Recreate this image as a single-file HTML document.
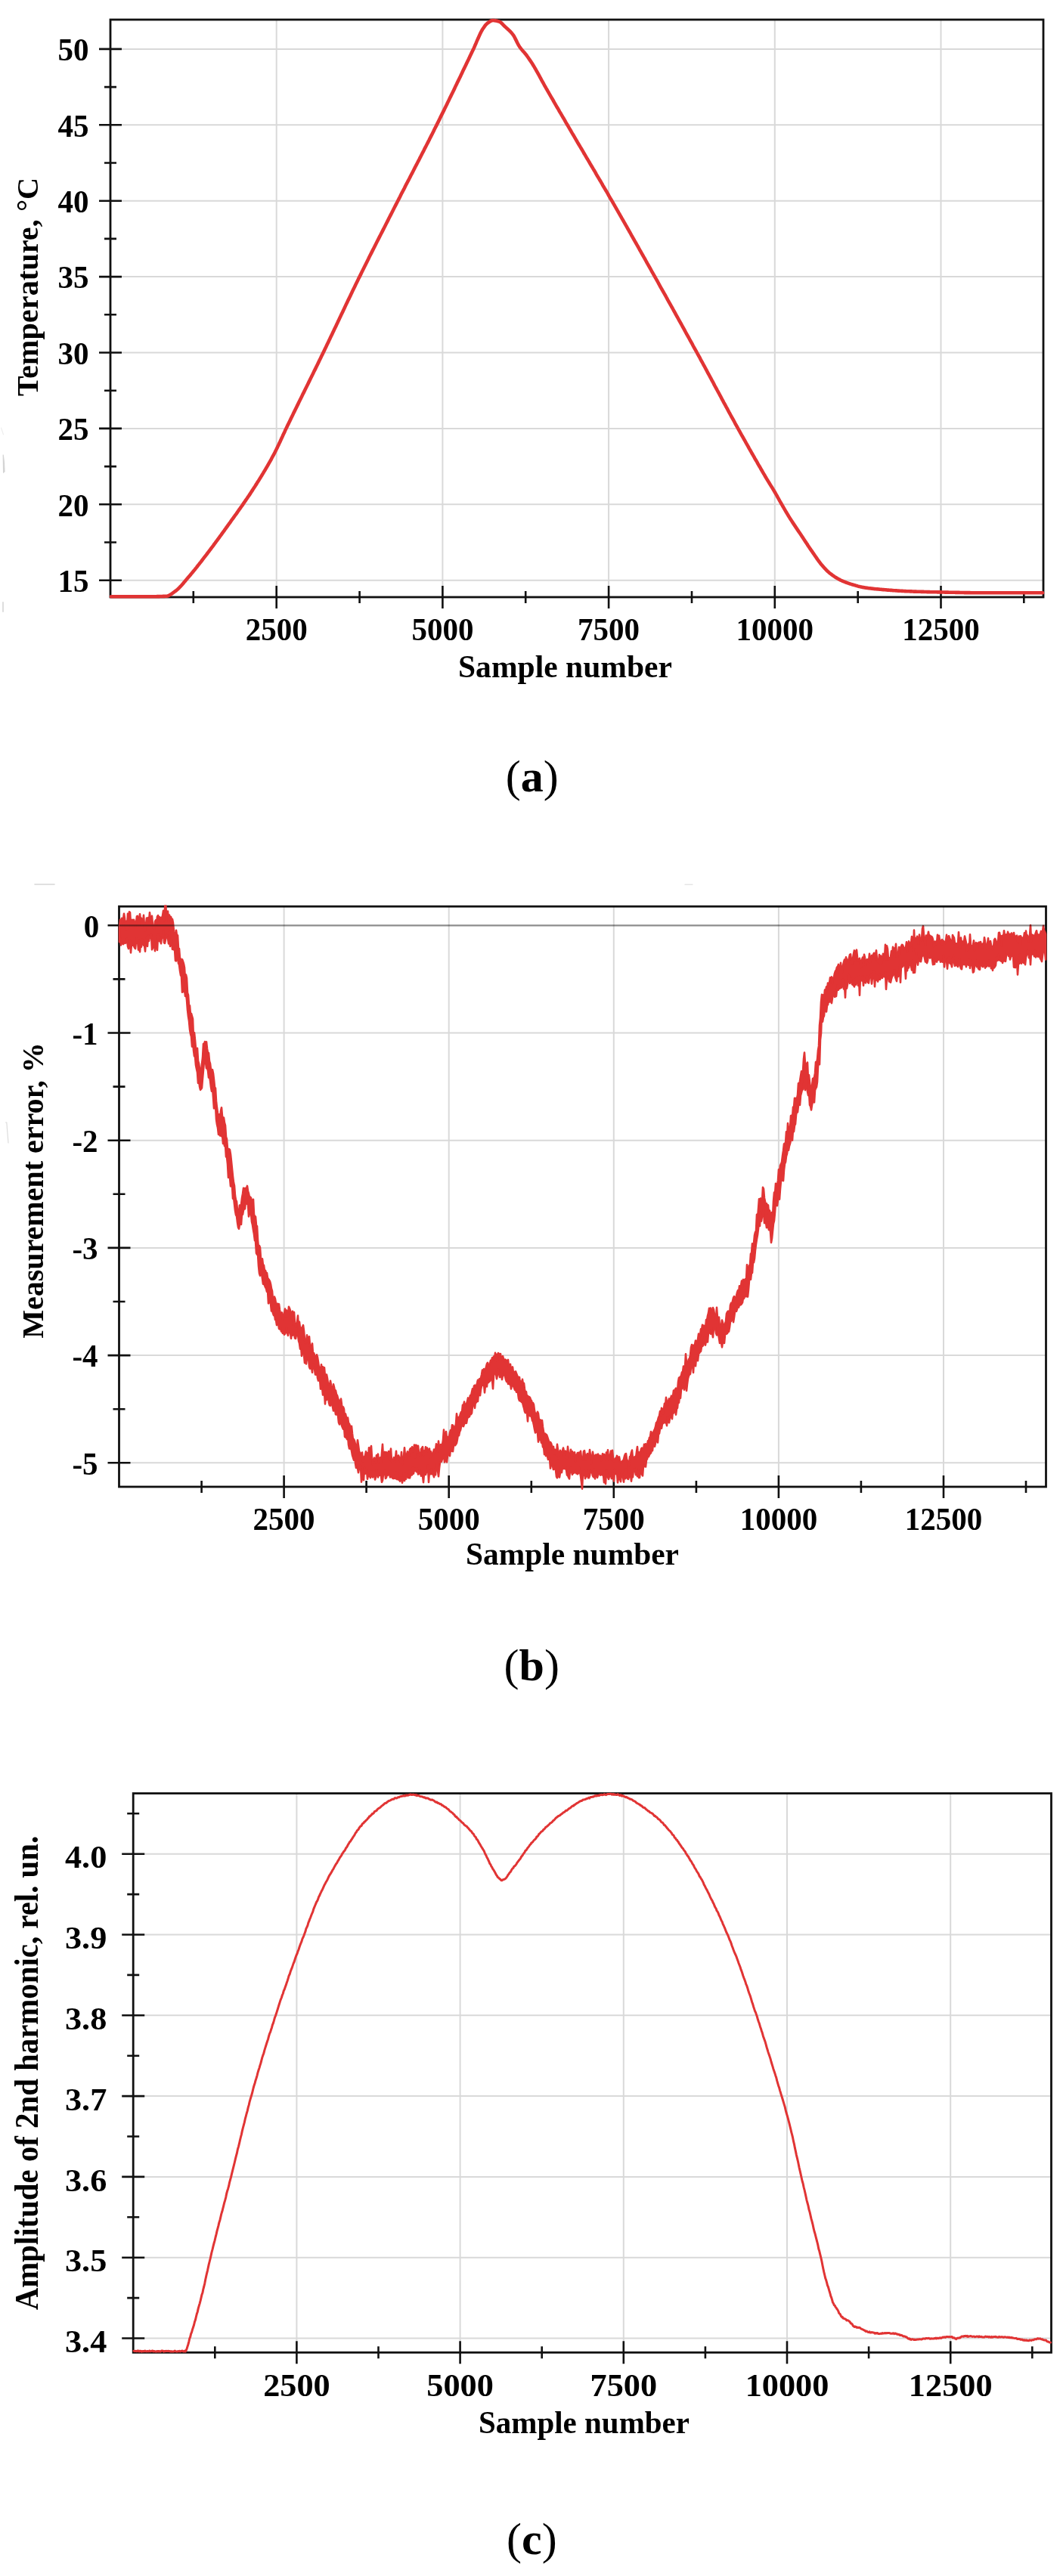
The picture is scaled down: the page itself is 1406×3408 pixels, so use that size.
<!DOCTYPE html>
<html><head><meta charset="utf-8"><style>html,body{margin:0;padding:0;background:#fff;}svg{display:block;filter:blur(0.5px);}</style></head>
<body>
<svg width="1406" height="3408" viewBox="0 0 1406 3408">
<rect width="1406" height="3408" fill="#fff"/>
<defs><clipPath id="cb"><rect x="150" y="1197.5" width="1240" height="775"/></clipPath></defs>
<g stroke="#d9d9d9" stroke-width="2"><line x1="146" y1="767.7" x2="1380" y2="767.7"/><line x1="146" y1="667.3" x2="1380" y2="667.3"/><line x1="146" y1="566.9" x2="1380" y2="566.9"/><line x1="146" y1="466.5" x2="1380" y2="466.5"/><line x1="146" y1="366.1" x2="1380" y2="366.1"/><line x1="146" y1="265.7" x2="1380" y2="265.7"/><line x1="146" y1="165.3" x2="1380" y2="165.3"/><line x1="146" y1="64.9" x2="1380" y2="64.9"/><line x1="365.7" y1="26" x2="365.7" y2="790"/><line x1="585.4" y1="26" x2="585.4" y2="790"/><line x1="805.1" y1="26" x2="805.1" y2="790"/><line x1="1024.8" y1="26" x2="1024.8" y2="790"/><line x1="1244.5" y1="26" x2="1244.5" y2="790"/></g>
<path d="M131 767.7H161M131 667.3H161M131 566.9H161M131 466.5H161M131 366.1H161M131 265.7H161M131 165.3H161M131 64.9H161M138 717.5H154M138 617.1H154M138 516.7H154M138 416.3H154M138 315.9H154M138 215.5H154M138 115.1H154M365.7 775V805M585.4 775V805M805.1 775V805M1024.8 775V805M1244.5 775V805M255.8 782V798M475.6 782V798M695.2 782V798M915 782V798M1134.7 782V798M1354.3 782V798" stroke="#111" stroke-width="2.6" fill="none"/>
<rect x="146" y="26" width="1234" height="764" fill="none" stroke="#111" stroke-width="2.8"/>
<path d="M147 789.2 L148 789.2 L149 789.2 L150 789.2 L151 789.2 L152 789.2 L153 789.2 L154 789.2 L155 789.2 L156 789.2 L157 789.2 L158 789.2 L159 789.2 L160 789.2 L161 789.2 L162 789.2 L163 789.2 L164 789.2 L165 789.3 L166 789.3 L167 789.3 L168 789.3 L169 789.3 L170 789.3 L171 789.3 L172 789.3 L173 789.3 L174 789.3 L175 789.3 L176 789.3 L177 789.3 L178 789.3 L179 789.3 L180 789.3 L181 789.3 L182 789.3 L183 789.3 L184 789.3 L185 789.3 L186 789.3 L187 789.3 L188 789.3 L189 789.3 L190 789.3 L191 789.3 L192 789.3 L193 789.3 L193.9 789.3 L194.9 789.3 L195.9 789.3 L196.9 789.3 L197.9 789.3 L198.9 789.3 L199.9 789.3 L200.9 789.2 L201.8 789.2 L202.8 789.2 L203.8 789.2 L204.8 789.2 L205.8 789.2 L206.8 789.2 L207.8 789.1 L208.7 789.1 L209.7 789.1 L210.7 789.1 L211.7 789 L212.7 789 L213.7 789 L214.7 789 L215.7 788.9 L216.6 788.9 L217.6 788.9 L218.6 788.8 L219.6 788.8 L220.6 788.7 L221.5 788.5 L222.5 788.2 L223.4 787.8 L224.4 787.3 L225.3 786.7 L226.3 786.1 L227.2 785.5 L228.2 784.8 L229.1 784.1 L230.1 783.4 L231 782.7 L232 782 L233 781.3 L233.9 780.5 L234.9 779.7 L235.8 778.8 L236.8 777.8 L237.8 776.9 L238.7 775.8 L239.7 774.8 L240.7 773.7 L241.6 772.6 L242.6 771.5 L243.5 770.3 L244.5 769.2 L245.5 768 L246.4 766.9 L247.4 765.7 L248.3 764.6 L249.3 763.5 L250.3 762.4 L251.3 761.2 L252.3 760 L253.2 758.9 L254.2 757.7 L255.2 756.5 L256.2 755.3 L257.2 754.1 L258.2 752.8 L259.2 751.6 L260.2 750.4 L261.1 749.1 L262.1 747.8 L263.1 746.6 L264.1 745.3 L265.1 744.1 L266.1 742.8 L267.1 741.5 L268.1 740.2 L269.1 738.9 L270 737.7 L271 736.4 L272 735.1 L273 733.8 L274 732.5 L275 731.2 L276 729.9 L276.9 728.6 L277.9 727.3 L278.9 726 L279.9 724.7 L280.9 723.4 L281.9 722.1 L282.9 720.7 L283.8 719.4 L284.8 718.1 L285.8 716.7 L286.8 715.4 L287.8 714 L288.8 712.7 L289.8 711.3 L290.7 710 L291.7 708.6 L292.7 707.3 L293.7 705.9 L294.7 704.5 L295.7 703.2 L296.7 701.8 L297.6 700.4 L298.6 699.1 L299.6 697.7 L300.6 696.3 L301.6 694.9 L302.6 693.5 L303.6 692.2 L304.6 690.8 L305.5 689.4 L306.5 688 L307.5 686.7 L308.5 685.3 L309.5 683.9 L310.5 682.5 L311.5 681.1 L312.5 679.8 L313.5 678.4 L314.4 677 L315.4 675.6 L316.4 674.2 L317.4 672.8 L318.4 671.4 L319.4 670 L320.4 668.6 L321.4 667.1 L322.4 665.7 L323.3 664.3 L324.3 662.9 L325.3 661.4 L326.3 660 L327.3 658.5 L328.3 657 L329.3 655.6 L330.3 654.1 L331.3 652.6 L332.2 651.1 L333.2 649.6 L334.2 648.1 L335.2 646.5 L336.2 645 L337.2 643.5 L338.2 641.9 L339.2 640.4 L340.1 638.8 L341.1 637.2 L342.1 635.7 L343.1 634.1 L344.1 632.5 L345.1 630.9 L346.1 629.3 L347 627.7 L348 626.1 L349 624.4 L350 622.8 L351 621.1 L352 619.4 L352.9 617.8 L353.9 616.1 L354.9 614.3 L355.9 612.6 L356.9 610.9 L357.9 609.1 L358.9 607.3 L359.8 605.5 L360.8 603.7 L361.8 601.9 L362.8 600 L363.8 598.1 L364.7 596.2 L365.7 594.3 L366.7 592.3 L367.6 590.2 L368.6 588.2 L369.6 586.1 L370.6 584 L371.5 581.9 L372.5 579.8 L373.5 577.7 L374.4 575.6 L375.4 573.5 L376.4 571.4 L377.3 569.3 L378.3 567.3 L379.3 565.2 L380.3 563.1 L381.3 561.1 L382.3 559 L383.3 556.9 L384.3 554.9 L385.3 552.8 L386.3 550.7 L387.3 548.7 L388.3 546.6 L389.3 544.6 L390.3 542.5 L391.3 540.5 L392.3 538.4 L393.3 536.4 L394.3 534.4 L395.3 532.3 L396.3 530.3 L397.3 528.2 L398.3 526.2 L399.3 524.2 L400.3 522.1 L401.3 520.1 L402.3 518.1 L403.3 516 L404.3 514 L405.3 512 L406.3 510 L407.3 507.9 L408.3 505.9 L409.3 503.9 L410.3 501.8 L411.3 499.8 L412.3 497.7 L413.3 495.7 L414.3 493.7 L415.3 491.6 L416.3 489.6 L417.3 487.6 L418.3 485.5 L419.3 483.5 L420.3 481.4 L421.3 479.4 L422.3 477.3 L423.3 475.3 L424.3 473.2 L425.3 471.1 L426.3 469.1 L427.3 467 L428.3 464.9 L429.3 462.9 L430.3 460.8 L431.3 458.7 L432.3 456.6 L433.3 454.5 L434.3 452.4 L435.3 450.3 L436.3 448.2 L437.3 446.1 L438.3 444 L439.3 441.9 L440.3 439.8 L441.3 437.7 L442.3 435.6 L443.3 433.5 L444.3 431.4 L445.3 429.3 L446.3 427.2 L447.3 425 L448.3 422.9 L449.3 420.8 L450.3 418.7 L451.3 416.6 L452.3 414.5 L453.3 412.4 L454.3 410.3 L455.3 408.2 L456.3 406.1 L457.3 403.9 L458.3 401.8 L459.3 399.7 L460.3 397.6 L461.3 395.6 L462.3 393.5 L463.3 391.4 L464.3 389.3 L465.3 387.2 L466.3 385.1 L467.3 383 L468.3 381 L469.3 378.9 L470.3 376.8 L471.3 374.8 L472.3 372.7 L473.3 370.7 L474.3 368.6 L475.3 366.6 L476.3 364.6 L477.3 362.6 L478.3 360.5 L479.3 358.5 L480.3 356.5 L481.3 354.5 L482.3 352.5 L483.3 350.5 L484.3 348.5 L485.3 346.5 L486.3 344.5 L487.3 342.5 L488.2 340.5 L489.2 338.5 L490.2 336.6 L491.2 334.6 L492.2 332.6 L493.2 330.6 L494.2 328.7 L495.2 326.7 L496.2 324.7 L497.2 322.7 L498.2 320.8 L499.2 318.8 L500.2 316.9 L501.2 314.9 L502.2 312.9 L503.2 311 L504.2 309 L505.2 307.1 L506.2 305.1 L507.2 303.1 L508.2 301.2 L509.2 299.2 L510.2 297.3 L511.2 295.3 L512.2 293.4 L513.2 291.4 L514.1 289.5 L515.1 287.5 L516.1 285.6 L517.1 283.6 L518.1 281.7 L519.1 279.7 L520.1 277.7 L521.1 275.8 L522.1 273.8 L523.1 271.9 L524.1 269.9 L525.1 268 L526.1 266 L527.1 264.1 L528.1 262.1 L529.1 260.2 L530 258.3 L531 256.3 L532 254.4 L533 252.5 L534 250.6 L535 248.7 L535.9 246.8 L536.9 244.8 L537.9 242.9 L538.9 241 L539.9 239.1 L540.9 237.2 L541.9 235.3 L542.8 233.4 L543.8 231.5 L544.8 229.6 L545.8 227.7 L546.8 225.8 L547.8 223.8 L548.7 221.9 L549.7 220 L550.7 218.1 L551.7 216.2 L552.7 214.3 L553.7 212.4 L554.7 210.5 L555.6 208.6 L556.6 206.7 L557.6 204.7 L558.6 202.8 L559.6 200.9 L560.6 199 L561.5 197.1 L562.5 195.1 L563.5 193.2 L564.5 191.3 L565.5 189.4 L566.5 187.4 L567.5 185.5 L568.4 183.5 L569.4 181.6 L570.4 179.6 L571.4 177.7 L572.4 175.7 L573.4 173.8 L574.3 171.8 L575.3 169.8 L576.3 167.9 L577.3 165.9 L578.3 163.9 L579.3 161.9 L580.3 159.9 L581.3 157.9 L582.2 155.9 L583.2 153.9 L584.2 151.9 L585.2 149.9 L586.2 147.9 L587.2 145.9 L588.2 143.8 L589.2 141.8 L590.2 139.8 L591.2 137.8 L592.1 135.7 L593.1 133.7 L594.1 131.7 L595.1 129.6 L596.1 127.6 L597.1 125.5 L598.1 123.5 L599.1 121.5 L600.1 119.4 L601.1 117.4 L602 115.3 L603 113.3 L604 111.2 L605 109.1 L606 107.1 L607 105 L608 103 L609 100.9 L610 98.8 L611 96.8 L611.9 94.7 L612.9 92.6 L613.9 90.6 L614.9 88.5 L615.9 86.4 L616.9 84.4 L617.9 82.3 L618.9 80.2 L619.9 78.2 L620.9 76.1 L621.8 74 L622.8 71.9 L623.8 69.9 L624.8 67.8 L625.8 65.7 L626.8 63.7 L627.7 61.6 L628.6 59.4 L629.6 57.2 L630.5 55 L631.5 52.7 L632.5 50.6 L633.4 48.4 L634.4 46.3 L635.3 44.3 L636.2 42.4 L637.2 40.6 L638.1 39 L639.1 37.5 L640.1 36.1 L641.1 34.7 L642 33.4 L643 32.3 L644 31.3 L645 30.5 L646 29.8 L647 29.1 L648 28.4 L648.9 27.9 L649.9 27.4 L650.9 27.1 L651.9 27 L652.8 27 L653.7 27.1 L654.7 27.2 L655.6 27.4 L656.5 27.5 L657.4 27.7 L658.4 28 L659.3 28.2 L660.2 28.5 L661.1 28.9 L662.1 29.5 L663 30.3 L664 31.2 L664.9 32.1 L665.8 33.1 L666.8 34.1 L667.7 35 L668.7 35.9 L669.6 36.7 L670.6 37.6 L671.6 38.5 L672.5 39.4 L673.5 40.3 L674.4 41.2 L675.4 42.2 L676.4 43.3 L677.3 44.4 L678.3 45.6 L679.3 47 L680.3 48.7 L681.3 50.6 L682.3 52.6 L683.3 54.6 L684.3 56.7 L685.3 58.6 L686.3 60.4 L687.3 62 L688.3 63.4 L689.3 64.7 L690.3 65.9 L691.3 67.1 L692.3 68.2 L693.3 69.3 L694.3 70.5 L695.3 71.7 L696.3 73 L697.2 74.2 L698.1 75.5 L699 76.8 L699.9 78.1 L700.8 79.4 L701.8 80.8 L702.7 82.2 L703.6 83.6 L704.5 85 L705.4 86.5 L706.4 88.1 L707.4 89.8 L708.4 91.5 L709.4 93.3 L710.4 95.1 L711.4 96.9 L712.4 98.7 L713.4 100.5 L714.4 102.4 L715.4 104.2 L716.4 106.1 L717.4 107.9 L718.4 109.7 L719.4 111.5 L720.4 113.3 L721.4 115 L722.4 116.8 L723.4 118.5 L724.3 120.2 L725.3 121.9 L726.3 123.7 L727.3 125.4 L728.3 127.1 L729.3 128.8 L730.3 130.5 L731.3 132.2 L732.2 133.9 L733.2 135.7 L734.2 137.4 L735.2 139.1 L736.2 140.8 L737.2 142.5 L738.2 144.2 L739.2 145.9 L740.1 147.6 L741.1 149.2 L742.1 150.9 L743.1 152.6 L744.1 154.3 L745.1 156 L746.1 157.7 L747.1 159.4 L748 161.1 L749 162.8 L750 164.5 L751 166.2 L752 167.9 L753 169.6 L754 171.3 L755 173 L755.9 174.7 L756.9 176.4 L757.9 178 L758.9 179.7 L759.9 181.4 L760.9 183.1 L761.9 184.8 L762.9 186.5 L763.8 188.2 L764.8 189.8 L765.8 191.5 L766.8 193.2 L767.8 194.9 L768.8 196.5 L769.8 198.2 L770.8 199.9 L771.8 201.6 L772.7 203.3 L773.7 204.9 L774.7 206.6 L775.7 208.3 L776.7 210 L777.7 211.6 L778.7 213.3 L779.7 215 L780.6 216.7 L781.6 218.3 L782.6 220 L783.6 221.7 L784.6 223.4 L785.6 225 L786.6 226.7 L787.6 228.4 L788.5 230.1 L789.5 231.8 L790.5 233.5 L791.5 235.1 L792.5 236.8 L793.5 238.5 L794.5 240.2 L795.5 241.9 L796.5 243.6 L797.4 245.3 L798.4 247 L799.4 248.7 L800.4 250.3 L801.4 252 L802.4 253.7 L803.4 255.4 L804.4 257.1 L805.3 258.9 L806.3 260.6 L807.3 262.3 L808.3 264 L809.3 265.7 L810.3 267.4 L811.3 269.2 L812.3 270.9 L813.3 272.7 L814.3 274.4 L815.3 276.1 L816.3 277.9 L817.3 279.6 L818.3 281.4 L819.3 283.1 L820.3 284.9 L821.3 286.6 L822.3 288.4 L823.3 290.1 L824.3 291.9 L825.3 293.7 L826.3 295.4 L827.3 297.2 L828.3 298.9 L829.3 300.7 L830.3 302.5 L831.3 304.2 L832.3 306 L833.3 307.7 L834.3 309.5 L835.3 311.3 L836.3 313 L837.3 314.8 L838.3 316.6 L839.3 318.4 L840.3 320.1 L841.3 321.9 L842.3 323.7 L843.3 325.4 L844.3 327.2 L845.3 329 L846.3 330.8 L847.3 332.5 L848.3 334.3 L849.3 336.1 L850.3 337.9 L851.3 339.7 L852.3 341.4 L853.3 343.2 L854.3 345 L855.3 346.8 L856.3 348.6 L857.3 350.3 L858.3 352.1 L859.3 353.9 L860.3 355.7 L861.3 357.5 L862.3 359.3 L863.3 361 L864.3 362.8 L865.3 364.6 L866.3 366.4 L867.3 368.2 L868.3 369.9 L869.3 371.7 L870.3 373.5 L871.3 375.3 L872.2 377 L873.2 378.8 L874.2 380.6 L875.2 382.3 L876.2 384.1 L877.2 385.9 L878.2 387.7 L879.2 389.4 L880.2 391.2 L881.2 393 L882.2 394.8 L883.1 396.6 L884.1 398.3 L885.1 400.1 L886.1 401.9 L887.1 403.7 L888.1 405.5 L889.1 407.2 L890.1 409 L891.1 410.8 L892.1 412.6 L893.1 414.4 L894 416.2 L895 418 L896 419.7 L897 421.5 L898 423.3 L899 425.1 L900 426.9 L901 428.7 L902 430.5 L903 432.3 L904 434.1 L905 435.9 L905.9 437.7 L906.9 439.5 L907.9 441.3 L908.9 443.1 L909.9 444.9 L910.9 446.7 L911.9 448.5 L912.9 450.3 L913.9 452.1 L914.9 453.9 L915.9 455.7 L916.8 457.5 L917.8 459.3 L918.8 461.1 L919.8 462.9 L920.8 464.7 L921.8 466.5 L922.8 468.3 L923.8 470.1 L924.8 471.9 L925.8 473.7 L926.7 475.6 L927.7 477.4 L928.7 479.2 L929.7 481 L930.7 482.9 L931.7 484.7 L932.7 486.5 L933.7 488.4 L934.7 490.2 L935.6 492 L936.6 493.9 L937.6 495.7 L938.6 497.5 L939.6 499.4 L940.6 501.2 L941.6 503.1 L942.6 504.9 L943.6 506.8 L944.5 508.6 L945.5 510.5 L946.5 512.3 L947.5 514.1 L948.5 516 L949.5 517.8 L950.5 519.7 L951.5 521.5 L952.5 523.4 L953.5 525.2 L954.4 527 L955.4 528.9 L956.4 530.7 L957.4 532.6 L958.4 534.4 L959.4 536.2 L960.4 538.1 L961.4 539.9 L962.4 541.7 L963.3 543.5 L964.3 545.4 L965.3 547.2 L966.3 549 L967.3 550.8 L968.3 552.6 L969.3 554.4 L970.3 556.2 L971.3 558 L972.2 559.8 L973.2 561.6 L974.2 563.4 L975.2 565.2 L976.2 567 L977.2 568.8 L978.2 570.5 L979.1 572.3 L980.1 574 L981.1 575.8 L982.1 577.5 L983 579.2 L984 581 L985 582.7 L986 584.5 L986.9 586.2 L987.9 587.9 L988.9 589.6 L989.9 591.4 L990.8 593.1 L991.8 594.8 L992.8 596.5 L993.8 598.3 L994.7 600 L995.7 601.7 L996.7 603.4 L997.7 605.1 L998.6 606.8 L999.6 608.5 L1000.6 610.2 L1001.6 611.9 L1002.5 613.6 L1003.5 615.3 L1004.5 617 L1005.5 618.7 L1006.4 620.3 L1007.4 622 L1008.3 623.6 L1009.3 625.3 L1010.2 626.9 L1011.2 628.5 L1012.1 630.2 L1013.1 631.8 L1014 633.4 L1015 635 L1016 636.6 L1017 638.2 L1017.9 639.8 L1018.9 641.4 L1019.9 643 L1020.9 644.5 L1021.9 646.1 L1022.8 647.7 L1023.8 649.3 L1024.8 651 L1025.7 652.6 L1026.7 654.3 L1027.6 655.9 L1028.5 657.6 L1029.5 659.3 L1030.4 661 L1031.3 662.7 L1032.3 664.4 L1033.2 666 L1034.2 667.7 L1035.2 669.5 L1036.2 671.2 L1037.2 672.9 L1038.2 674.6 L1039.2 676.3 L1040.2 678 L1041.2 679.7 L1042.2 681.3 L1043.2 683 L1044.2 684.6 L1045.2 686.2 L1046.2 687.8 L1047.2 689.3 L1048.2 690.9 L1049.2 692.4 L1050.2 693.9 L1051.2 695.4 L1052.2 696.9 L1053.2 698.4 L1054.2 699.9 L1055.2 701.4 L1056.2 702.9 L1057.2 704.3 L1058.2 705.8 L1059.2 707.3 L1060.2 708.8 L1061.1 710.2 L1062.1 711.6 L1063 713.1 L1064 714.5 L1064.9 715.9 L1065.9 717.4 L1066.8 718.8 L1067.8 720.2 L1068.7 721.7 L1069.6 723.1 L1070.6 724.5 L1071.5 725.9 L1072.5 727.3 L1073.4 728.7 L1074.4 730 L1075.3 731.4 L1076.3 732.8 L1077.3 734.3 L1078.3 735.7 L1079.3 737.2 L1080.3 738.6 L1081.3 740.1 L1082.3 741.5 L1083.3 742.8 L1084.3 744.2 L1085.3 745.5 L1086.3 746.7 L1087.3 747.9 L1088.3 749 L1089.2 750.1 L1090.2 751.1 L1091.1 752.2 L1092.1 753.2 L1093 754.2 L1094 755.1 L1094.9 756 L1095.9 756.9 L1096.8 757.7 L1097.8 758.5 L1098.7 759.2 L1099.7 759.9 L1100.6 760.6 L1101.6 761.3 L1102.5 762 L1103.5 762.6 L1104.4 763.3 L1105.3 763.9 L1106.3 764.4 L1107.2 765 L1108.2 765.6 L1109.1 766.1 L1110.1 766.6 L1111 767.1 L1112 767.6 L1112.9 768 L1113.9 768.5 L1114.9 768.9 L1115.9 769.3 L1116.9 769.7 L1117.9 770.1 L1118.9 770.5 L1119.9 770.9 L1120.9 771.2 L1121.9 771.6 L1122.9 771.9 L1123.9 772.3 L1124.9 772.6 L1125.9 772.9 L1126.9 773.2 L1127.9 773.5 L1128.8 773.8 L1129.8 774.1 L1130.7 774.3 L1131.7 774.6 L1132.6 774.9 L1133.6 775.1 L1134.5 775.4 L1135.5 775.7 L1136.4 775.9 L1137.3 776.1 L1138.3 776.4 L1139.2 776.6 L1140.2 776.8 L1141.1 777 L1142.1 777.1 L1143 777.3 L1144 777.5 L1145 777.6 L1146 777.8 L1147 777.9 L1148 778 L1149 778.2 L1150 778.3 L1151 778.4 L1152 778.5 L1153 778.6 L1154 778.8 L1155 778.9 L1156 779 L1157 779.1 L1158 779.2 L1159 779.3 L1160 779.4 L1161 779.4 L1162 779.5 L1163 779.6 L1164 779.7 L1165 779.8 L1166 779.9 L1167 780 L1168 780.1 L1169 780.1 L1170 780.2 L1171 780.3 L1172 780.4 L1173 780.5 L1174 780.6 L1174.9 780.6 L1175.9 780.7 L1176.9 780.8 L1177.9 780.9 L1178.9 780.9 L1179.9 781 L1180.9 781.1 L1181.9 781.2 L1182.9 781.2 L1183.9 781.3 L1184.9 781.4 L1185.9 781.4 L1186.9 781.5 L1187.9 781.6 L1188.9 781.6 L1189.9 781.7 L1190.9 781.8 L1191.9 781.8 L1192.8 781.9 L1193.8 781.9 L1194.8 782 L1195.8 782 L1196.8 782.1 L1197.8 782.1 L1198.8 782.2 L1199.8 782.2 L1200.8 782.3 L1201.8 782.3 L1202.8 782.3 L1203.8 782.4 L1204.7 782.4 L1205.7 782.4 L1206.7 782.5 L1207.7 782.5 L1208.7 782.6 L1209.6 782.6 L1210.6 782.6 L1211.6 782.6 L1212.6 782.7 L1213.6 782.7 L1214.5 782.7 L1215.5 782.8 L1216.5 782.8 L1217.5 782.8 L1218.5 782.9 L1219.4 782.9 L1220.4 782.9 L1221.4 782.9 L1222.4 783 L1223.4 783 L1224.4 783 L1225.3 783 L1226.3 783.1 L1227.3 783.1 L1228.3 783.1 L1229.3 783.1 L1230.2 783.2 L1231.2 783.2 L1232.2 783.2 L1233.2 783.2 L1234.2 783.2 L1235.1 783.3 L1236.1 783.3 L1237.1 783.3 L1238.1 783.3 L1239.1 783.3 L1240 783.4 L1241 783.4 L1242 783.4 L1243 783.4 L1244 783.4 L1245 783.5 L1246 783.5 L1247 783.5 L1247.9 783.5 L1248.9 783.5 L1249.9 783.6 L1250.9 783.6 L1251.9 783.6 L1252.9 783.6 L1253.9 783.6 L1254.9 783.7 L1255.9 783.7 L1256.9 783.7 L1257.8 783.7 L1258.8 783.8 L1259.8 783.8 L1260.8 783.8 L1261.8 783.8 L1262.8 783.8 L1263.8 783.9 L1264.8 783.9 L1265.8 783.9 L1266.8 783.9 L1267.8 783.9 L1268.7 783.9 L1269.7 784 L1270.7 784 L1271.7 784 L1272.7 784 L1273.7 784 L1274.7 784 L1275.7 784.1 L1276.7 784.1 L1277.7 784.1 L1278.6 784.1 L1279.6 784.1 L1280.6 784.1 L1281.6 784.1 L1282.6 784.1 L1283.6 784.2 L1284.6 784.2 L1285.6 784.2 L1286.6 784.2 L1287.6 784.2 L1288.5 784.2 L1289.5 784.2 L1290.5 784.2 L1291.5 784.2 L1292.5 784.2 L1293.5 784.2 L1294.5 784.2 L1295.5 784.2 L1296.5 784.2 L1297.5 784.2 L1298.5 784.2 L1299.5 784.2 L1300.5 784.2 L1301.5 784.2 L1302.4 784.2 L1303.4 784.2 L1304.4 784.2 L1305.4 784.2 L1306.4 784.2 L1307.4 784.2 L1308.4 784.2 L1309.4 784.2 L1310.4 784.2 L1311.4 784.2 L1312.4 784.2 L1313.4 784.2 L1314.4 784.2 L1315.4 784.2 L1316.4 784.2 L1317.4 784.2 L1318.4 784.2 L1319.3 784.2 L1320.3 784.2 L1321.3 784.2 L1322.3 784.2 L1323.3 784.2 L1324.3 784.2 L1325.3 784.2 L1326.3 784.2 L1327.3 784.2 L1328.3 784.2 L1329.3 784.2 L1330.3 784.2 L1331.3 784.2 L1332.3 784.2 L1333.3 784.2 L1334.3 784.2 L1335.3 784.2 L1336.2 784.2 L1337.2 784.2 L1338.2 784.2 L1339.2 784.2 L1340.2 784.2 L1341.2 784.2 L1342.2 784.2 L1343.2 784.2 L1344.2 784.2 L1345.2 784.2 L1346.2 784.2 L1347.2 784.2 L1348.2 784.2 L1349.2 784.2 L1350.2 784.2 L1351.2 784.2 L1352.2 784.2 L1353.2 784.2 L1354.1 784.2 L1355.1 784.2 L1356.1 784.2 L1357.1 784.2 L1358.1 784.2 L1359.1 784.2 L1360.1 784.2 L1361.1 784.2 L1362.1 784.2 L1363.1 784.2 L1364.1 784.2 L1365.1 784.2 L1366.1 784.2 L1367.1 784.2 L1368.1 784.2 L1369.1 784.2 L1370.1 784.2 L1371 784.2 L1372 784.2 L1373 784.2 L1374 784.2 L1375 784.2 L1376 784.2 L1377 784.2 L1378 784.2 L1379 784.2" stroke="#e13434" stroke-width="4.6" fill="none" stroke-linejoin="round" stroke-linecap="round"/>
<g stroke="#d9d9d9" stroke-width="2"><line x1="157.5" y1="1366.5" x2="1383.5" y2="1366.5"/><line x1="157.5" y1="1508.7" x2="1383.5" y2="1508.7"/><line x1="157.5" y1="1650.9" x2="1383.5" y2="1650.9"/><line x1="157.5" y1="1793.1" x2="1383.5" y2="1793.1"/><line x1="157.5" y1="1935.3" x2="1383.5" y2="1935.3"/><line x1="375.6" y1="1199.2" x2="375.6" y2="1967"/><line x1="593.7" y1="1199.2" x2="593.7" y2="1967"/><line x1="811.8" y1="1199.2" x2="811.8" y2="1967"/><line x1="1029.9" y1="1199.2" x2="1029.9" y2="1967"/><line x1="1248" y1="1199.2" x2="1248" y2="1967"/></g>
<path d="M142.5 1224.3H172.5M142.5 1366.5H172.5M142.5 1508.7H172.5M142.5 1650.9H172.5M142.5 1793.1H172.5M142.5 1935.3H172.5M149.5 1295.4H165.5M149.5 1437.6H165.5M149.5 1579.8H165.5M149.5 1722H165.5M149.5 1864.2H165.5M375.6 1952V1982M593.7 1952V1982M811.8 1952V1982M1029.9 1952V1982M1248 1952V1982M266.6 1959V1975M484.6 1959V1975M702.8 1959V1975M920.9 1959V1975M1138.9 1959V1975M1357 1959V1975" stroke="#111" stroke-width="2.6" fill="none"/>
<rect x="157.5" y="1199.2" width="1226" height="767.8" fill="none" stroke="#111" stroke-width="2.8"/>
<path clip-path="url(#cb)" d="M158 1226.8 L159 1216.8 L160 1227.2 L161 1214.8 L162 1220.2 L163 1216 L164 1208.8 L165 1215.3 L166 1226.3 L167 1218.7 L168 1229.7 L169 1208.9 L170 1226.8 L171 1206.4 L172 1207 L173 1223.4 L174 1220.5 L175 1216.8 L176 1226.6 L177 1216.7 L178 1219.8 L179 1226.1 L180 1220.8 L181 1212.2 L182 1211.9 L183 1216.9 L184 1225.2 L185 1209.3 L186 1218.2 L187 1214.8 L188 1227.6 L189 1222.9 L190 1210.8 L191 1224 L192 1231.5 L193 1222.6 L194 1214.6 L195 1217.1 L196 1214.2 L197 1218.5 L198 1207.2 L199 1217.8 L200 1219 L201 1211.9 L202 1224.2 L203 1227.4 L204 1228.8 L205 1219.3 L206 1217.3 L207 1222.2 L208 1212.6 L209 1211.1 L210 1215.6 L211 1213.2 L212 1214 L213 1215.5 L214 1214.1 L215 1211.8 L216 1204.9 L217 1218.2 L218 1202.8 L219 1189.8 L220 1212.3 L221 1210.1 L222 1205.5 L223 1218.8 L224 1210.6 L225 1215.9 L226 1212.9 L227 1215.9 L228 1216 L229 1221.3 L230 1232.2 L231 1236.9 L232 1239.5 L233 1230.7 L234 1238.1 L235 1237.4 L236 1254.8 L237 1255.1 L238 1268.2 L239 1268.4 L240 1274.5 L241 1269.2 L242 1272 L243 1275.1 L244 1280.1 L245 1296.1 L246 1289.6 L247 1294 L248 1313.4 L249 1316.3 L250 1330.7 L251 1330.3 L252 1342.7 L253 1340.8 L254 1344.4 L255 1347.8 L256 1373.8 L257 1366.2 L258 1376 L259 1387.8 L260 1389.5 L261 1386.8 L262 1403.4 L263 1406.8 L264 1413.6 L265 1418.8 L266 1417.7 L267 1407.5 L268 1399.5 L269 1381.1 L270 1381.5 L271 1378.2 L272 1382.8 L273 1378.2 L274 1387.5 L275 1393.5 L276 1393.2 L277 1403.9 L278 1406.8 L279 1415.4 L280 1414.9 L281 1415.3 L282 1420 L283 1428.4 L284 1438.4 L285 1439.5 L286 1456.9 L287 1465.8 L288 1472.7 L289 1476.9 L290 1474.3 L291 1484.1 L292 1469.8 L293 1465.2 L294 1476.6 L295 1479.2 L296 1478.6 L297 1485.5 L298 1488.8 L299 1504.2 L300 1507 L301 1520 L302 1526 L303 1520.1 L304 1521.2 L305 1527.2 L306 1536.3 L307 1546.4 L308 1556.3 L309 1564.3 L310 1568.5 L311 1582.1 L312 1587.7 L313 1589.6 L314 1601.2 L315 1601.1 L316 1603.1 L317 1594.5 L318 1598.6 L319 1593.6 L320 1584.9 L321 1579.5 L322 1571.9 L323 1580.5 L324 1572.1 L325 1571.9 L326 1572.7 L327 1568.9 L328 1575.9 L329 1578.9 L330 1584 L331 1583.5 L332 1584.8 L333 1589.6 L334 1596.3 L335 1586.7 L336 1606.8 L337 1609.5 L338 1609.6 L339 1621.4 L340 1622 L341 1640.3 L342 1651.7 L343 1648.1 L344 1650.6 L345 1665.6 L346 1670.5 L347 1665.4 L348 1674.5 L349 1673.9 L350 1681.5 L351 1680.8 L352 1684.1 L353 1684 L354 1690.7 L355 1692.1 L356 1693.4 L357 1695.1 L358 1698.8 L359 1704.7 L360 1707.8 L361 1720.5 L362 1726.3 L363 1715.6 L364 1718.4 L365 1724.8 L366 1725.6 L367 1724.6 L368 1726.6 L369 1725.2 L370 1732.9 L371 1738.2 L372 1740.6 L373 1736.4 L374 1746.6 L375 1742.5 L376 1737.9 L377 1731.6 L378 1742 L379 1733.6 L380 1741.6 L381 1739.9 L382 1728.7 L383 1731 L384 1733.9 L385 1738.7 L386 1744 L387 1734.7 L388 1752.7 L389 1736.1 L390 1749.9 L391 1755.6 L392 1751.8 L393 1748.7 L394 1740.6 L395 1760.6 L396 1748.8 L397 1757.2 L398 1759.2 L399 1756.3 L400 1755.8 L401 1753.2 L402 1760.6 L403 1772.2 L404 1776.9 L405 1775.8 L406 1766.4 L407 1772.9 L408 1776.7 L409 1768.2 L410 1780.5 L411 1782.9 L412 1780.8 L413 1777.4 L414 1791.4 L415 1790.1 L416 1792.5 L417 1797.6 L418 1798.3 L419 1792.4 L420 1795.6 L421 1802 L422 1809.6 L423 1809.2 L424 1814.5 L425 1805.3 L426 1815.3 L427 1808.3 L428 1822.7 L429 1809.4 L430 1821.6 L431 1818.6 L432 1818.5 L433 1823.6 L434 1830.9 L435 1830.5 L436 1834.3 L437 1826.7 L438 1832.8 L439 1836.3 L440 1844.4 L441 1831.2 L442 1835.3 L443 1841.2 L444 1839.7 L445 1844.8 L446 1846.1 L447 1849.9 L448 1852.7 L449 1862.1 L450 1853.7 L451 1850.6 L452 1858.2 L453 1863.4 L454 1861.5 L455 1864.3 L456 1876.7 L457 1870.6 L458 1875.3 L459 1877.3 L460 1875.5 L461 1882.7 L462 1883.6 L463 1886.7 L464 1894.8 L465 1886.8 L466 1896.7 L467 1904.8 L468 1904.2 L469 1906.3 L470 1910.7 L471 1913 L472 1917.3 L473 1905.2 L474 1912.1 L475 1919.9 L476 1921.6 L477 1924.7 L478 1923.4 L479 1921.5 L480 1933 L481 1929.7 L482 1927 L483 1925.8 L484 1920.4 L485 1923.5 L486 1922.5 L487 1930.5 L488 1915.3 L489 1921.4 L490 1916.4 L491 1913 L492 1929.4 L493 1937.1 L494 1930.9 L495 1928.7 L496 1931.9 L497 1935.2 L498 1925.4 L499 1926.2 L500 1923.7 L501 1935.4 L502 1932.6 L503 1928.3 L504 1934.6 L505 1922.7 L506 1910.7 L507 1929.8 L508 1924.2 L509 1920.9 L510 1926.7 L511 1921.2 L512 1925.3 L513 1923.7 L514 1920.1 L515 1930.9 L516 1922.5 L517 1916.6 L518 1933.2 L519 1933.9 L520 1931.7 L521 1928.2 L522 1929.2 L523 1929.4 L524 1919.8 L525 1934 L526 1930.4 L527 1925.6 L528 1927.9 L529 1932.4 L530 1934.7 L531 1921.1 L532 1937.3 L533 1928.4 L534 1926.8 L535 1915.4 L536 1926.3 L537 1929.4 L538 1924 L539 1920.4 L540 1923.9 L541 1925.8 L542 1917.8 L543 1916.2 L544 1919.8 L545 1914.4 L546 1920.4 L547 1919 L548 1911.6 L549 1928 L550 1911.7 L551 1912.3 L552 1921.6 L553 1912.7 L554 1921.9 L555 1923.2 L556 1926.6 L557 1917.1 L558 1915.8 L559 1914.2 L560 1925.4 L561 1919.5 L562 1924.3 L563 1914.2 L564 1918.6 L565 1915.6 L566 1919.9 L567 1920 L568 1916.5 L569 1928.1 L570 1920.4 L571 1926.9 L572 1922.8 L573 1921.8 L574 1917.5 L575 1923.4 L576 1919.1 L577 1910.4 L578 1911.9 L579 1920.6 L580 1906.6 L581 1917.1 L582 1916.3 L583 1911 L584 1916 L585 1911.5 L586 1905.1 L587 1891.6 L588 1905.5 L589 1907.5 L590 1894.1 L591 1902.9 L592 1901 L593 1903.8 L594 1900.8 L595 1895.3 L596 1892.2 L597 1895.7 L598 1885.2 L599 1885.6 L600 1887.3 L601 1888.4 L602 1888.5 L603 1883.8 L604 1870.3 L605 1878.4 L606 1880.1 L607 1874.7 L608 1874.6 L609 1870.4 L610 1868 L611 1868.9 L612 1858.7 L613 1860.5 L614 1854.6 L615 1863.8 L616 1857.4 L617 1857.1 L618 1854.3 L619 1849.4 L620 1850.9 L621 1850.1 L622 1846.1 L623 1847 L624 1841.7 L625 1837.4 L626 1843.7 L627 1833.5 L628 1832.6 L629 1835.2 L630 1833.7 L631 1830.1 L632 1825.7 L633 1829.7 L634 1824.5 L635 1824 L636 1823.2 L637 1818.8 L638 1812.5 L639 1814.5 L640 1811.2 L641 1813.9 L642 1812.1 L643 1808.2 L644 1804.2 L645 1802.8 L646 1807.6 L647 1806.5 L648 1804.1 L649 1799.7 L650 1801.2 L651 1796.3 L652 1798.9 L653 1794.6 L654 1798.4 L655 1789.8 L656 1800.1 L657 1791.9 L658 1794.5 L659 1790 L660 1791.2 L661 1799.2 L662 1791.1 L663 1798.6 L664 1795.1 L665 1794.1 L666 1797.9 L667 1800.8 L668 1798.5 L669 1799.1 L670 1803.3 L671 1800.3 L672 1799 L673 1808.3 L674 1810.8 L675 1804.7 L676 1814.1 L677 1812.9 L678 1808.4 L679 1816.9 L680 1814.8 L681 1815.4 L682 1814.3 L683 1817.1 L684 1819.5 L685 1821.7 L686 1824.1 L687 1821.9 L688 1831.9 L689 1827.5 L690 1831.6 L691 1824.9 L692 1832.7 L693 1830 L694 1838 L695 1844 L696 1841.2 L697 1850.5 L698 1846.7 L699 1847.8 L700 1848 L701 1848.9 L702 1851.9 L703 1853 L704 1859.9 L705 1855.9 L706 1858.3 L707 1866.4 L708 1870.9 L709 1869.8 L710 1874.7 L711 1867.9 L712 1870.1 L713 1879.4 L714 1882.5 L715 1878.4 L716 1886.6 L717 1879.1 L718 1887.9 L719 1894.2 L720 1905.5 L721 1896.6 L722 1897.5 L723 1898.3 L724 1900.8 L725 1904 L726 1907.2 L727 1909 L728 1907.9 L729 1909.4 L730 1913.2 L731 1918.6 L732 1913.7 L733 1923.1 L734 1917.7 L735 1918.1 L736 1925 L737 1910.9 L738 1918.7 L739 1929.6 L740 1922.7 L741 1918.8 L742 1926.1 L743 1921 L744 1919.4 L745 1915.5 L746 1920.7 L747 1921.3 L748 1919.7 L749 1928.7 L750 1929.3 L751 1913.8 L752 1924.1 L753 1923.2 L754 1924.2 L755 1917.7 L756 1928.8 L757 1920.4 L758 1925.3 L759 1922.1 L760 1921.3 L761 1933.3 L762 1924.7 L763 1924.8 L764 1922 L765 1922.5 L766 1921.6 L767 1928.3 L768 1919.9 L769 1928.8 L770 1927.7 L771 1931.4 L772 1920.2 L773 1919.2 L774 1926.2 L775 1931.7 L776 1925 L777 1923.2 L778 1925.1 L779 1928.7 L780 1918 L781 1926 L782 1936.6 L783 1928.2 L784 1920.9 L785 1927 L786 1930 L787 1925.8 L788 1924.5 L789 1928.4 L790 1924.5 L791 1923.6 L792 1927.8 L793 1925.8 L794 1925.8 L795 1931.9 L796 1929.7 L797 1923.4 L798 1932 L799 1924.1 L800 1929.4 L801 1931.1 L802 1921.6 L803 1928.5 L804 1918.3 L805 1931 L806 1925.2 L807 1925 L808 1919.5 L809 1931.1 L810 1918.8 L811 1929.5 L812 1933 L813 1931.4 L814 1929.4 L815 1929.6 L816 1925.9 L817 1928 L818 1928.2 L819 1927.4 L820 1933 L821 1935.2 L822 1935.3 L823 1933.1 L824 1932.8 L825 1930.6 L826 1926.5 L827 1923.7 L828 1923.2 L829 1930.6 L830 1932.6 L831 1941.8 L832 1938.5 L833 1927.1 L834 1926.6 L835 1921.6 L836 1918.6 L837 1930.2 L838 1927.6 L839 1928.9 L840 1927.1 L841 1929 L842 1920.8 L843 1914 L844 1927.4 L845 1921.2 L846 1928 L847 1921.6 L848 1917 L849 1915.6 L850 1918.6 L851 1918.5 L852 1910.8 L853 1920.8 L854 1910.3 L855 1911.8 L856 1913 L857 1906.3 L858 1906.2 L859 1901.7 L860 1901 L861 1894 L862 1903.4 L863 1896 L864 1895 L865 1892.9 L866 1890.9 L867 1887.7 L868 1882.3 L869 1881.5 L870 1878.9 L871 1875.2 L872 1873.3 L873 1867.1 L874 1873.5 L875 1862.8 L876 1864 L877 1870.2 L878 1863.8 L879 1856.8 L880 1860.8 L881 1848.8 L882 1856.2 L883 1858.8 L884 1853.4 L885 1850.4 L886 1852.9 L887 1850.4 L888 1846.7 L889 1850.2 L890 1847.3 L891 1839.5 L892 1845.7 L893 1838.2 L894 1836.6 L895 1838.3 L896 1840.8 L897 1828.3 L898 1822.6 L899 1822.2 L900 1821.5 L901 1819.8 L902 1815.3 L903 1815.3 L904 1807.5 L905 1809.8 L906 1809.4 L907 1791.2 L908 1803 L909 1802.7 L910 1802.1 L911 1798.1 L912 1797.2 L913 1793 L914 1782.8 L915 1779.1 L916 1783.9 L917 1779.7 L918 1782.7 L919 1778.9 L920 1773.6 L921 1774 L922 1779.4 L923 1772.3 L924 1764.6 L925 1772.4 L926 1767.5 L927 1758.3 L928 1759.9 L929 1752.9 L930 1754.9 L931 1753.7 L932 1756.5 L933 1758.3 L934 1746 L935 1747.8 L936 1740.8 L937 1737.1 L938 1730.7 L939 1735 L940 1730.6 L941 1737.2 L942 1735.9 L943 1730.1 L944 1732.8 L945 1738.8 L946 1740.6 L947 1745.6 L948 1729.9 L949 1743.7 L950 1743.3 L951 1742.7 L952 1755.5 L953 1754.2 L954 1753.7 L955 1746.5 L956 1750.2 L957 1754.4 L958 1754.7 L959 1750.9 L960 1748.1 L961 1738 L962 1735.8 L963 1734.6 L964 1740 L965 1738.8 L966 1726.6 L967 1723.9 L968 1726.1 L969 1721.3 L970 1717 L971 1715.2 L972 1718.8 L973 1717.9 L974 1714.3 L975 1710 L976 1707.2 L977 1710.7 L978 1701.2 L979 1703.3 L980 1701.5 L981 1694.5 L982 1703.5 L983 1692.7 L984 1694.1 L985 1693.5 L986 1692.1 L987 1693.4 L988 1673.3 L989 1686.1 L990 1682.7 L991 1674.1 L992 1673.1 L993 1658.6 L994 1658.5 L995 1645.3 L996 1651 L997 1645.4 L998 1634.4 L999 1630.1 L1000 1628.5 L1001 1606.9 L1002 1612.8 L1003 1599.7 L1004 1586.2 L1005 1587.7 L1006 1585.4 L1007 1587.2 L1008 1590.2 L1009 1570.9 L1010 1572.8 L1011 1584.9 L1012 1589.6 L1013 1596.2 L1014 1592.2 L1015 1596.2 L1016 1594.3 L1017 1605.9 L1018 1601.5 L1019 1606.4 L1020 1613.6 L1021 1604.1 L1022 1611.5 L1023 1589.1 L1024 1577.5 L1025 1580 L1026 1565.7 L1027 1569.9 L1028 1568.7 L1029 1561.7 L1030 1547.2 L1031 1550.6 L1032 1542.1 L1033 1539.9 L1034 1537.5 L1035 1529.3 L1036 1522.4 L1037 1513.4 L1038 1512.5 L1039 1513.1 L1040 1497.3 L1041 1507.3 L1042 1486.1 L1043 1494.2 L1044 1496 L1045 1493.4 L1046 1476.2 L1047 1475.6 L1048 1479.9 L1049 1464.5 L1050 1465.8 L1051 1452.9 L1052 1456.3 L1053 1452.8 L1054 1453.5 L1055 1448.6 L1056 1433.2 L1057 1434.1 L1058 1430.3 L1059 1423.6 L1060 1417.4 L1061 1420.6 L1062 1417.3 L1063 1400.8 L1064 1392.5 L1065 1407.8 L1066 1407 L1067 1412.2 L1068 1405.6 L1069 1429.9 L1070 1422.4 L1071 1432.3 L1072 1438.6 L1073 1437.1 L1074 1437.7 L1075 1426.9 L1076 1426.6 L1077 1425.4 L1078 1419.9 L1079 1405 L1080 1406.8 L1081 1401.8 L1082 1389.4 L1083 1383.9 L1084 1356.7 L1085 1346.8 L1086 1325.8 L1087 1315.8 L1088 1324.3 L1089 1316.3 L1090 1319.9 L1091 1309.5 L1092 1313.2 L1093 1305.5 L1094 1309.9 L1095 1300.5 L1096 1305.2 L1097 1300.9 L1098 1293.3 L1099 1295.2 L1100 1292.4 L1101 1301.4 L1102 1293.8 L1103 1292.8 L1104 1287.6 L1105 1284.7 L1106 1283.6 L1107 1279.5 L1108 1278.9 L1109 1275.9 L1110 1286 L1111 1287.3 L1112 1273.8 L1113 1288.3 L1114 1285.7 L1115 1277 L1116 1273 L1117 1269.7 L1118 1275.6 L1119 1266.4 L1120 1270.3 L1121 1269.9 L1122 1273.3 L1123 1267.5 L1124 1263 L1125 1262.3 L1126 1270.4 L1127 1275.7 L1128 1268.3 L1129 1262 L1130 1257.4 L1131 1271.7 L1132 1260 L1133 1256.7 L1134 1266.5 L1135 1271.2 L1136 1270.8 L1137 1267.8 L1138 1276 L1139 1279.8 L1140 1269.9 L1141 1266.7 L1142 1271.5 L1143 1262.9 L1144 1266.9 L1145 1277.2 L1146 1271.6 L1147 1269.2 L1148 1270.4 L1149 1272.1 L1150 1261.9 L1151 1273.1 L1152 1269.5 L1153 1264.1 L1154 1264.5 L1155 1262.8 L1156 1260.8 L1157 1267 L1158 1262.7 L1159 1257.4 L1160 1269.5 L1161 1271.9 L1162 1273.2 L1163 1263.1 L1164 1274.2 L1165 1264.5 L1166 1275.4 L1167 1269.4 L1168 1261.9 L1169 1266.7 L1170 1267.3 L1171 1249.7 L1172 1269.7 L1173 1251.3 L1174 1255.4 L1175 1269.5 L1176 1267.3 L1177 1268.6 L1178 1266.1 L1179 1258.3 L1180 1265 L1181 1252.9 L1182 1259.4 L1183 1254.6 L1184 1259.1 L1185 1248.8 L1186 1265.7 L1187 1267.5 L1188 1261.1 L1189 1253 L1190 1262.7 L1191 1254.2 L1192 1252.2 L1193 1249.8 L1194 1250.4 L1195 1252.8 L1196 1255.9 L1197 1253.8 L1198 1253.8 L1199 1246.4 L1200 1259.2 L1201 1252.2 L1202 1245.4 L1203 1247.8 L1204 1252.1 L1205 1248.2 L1206 1239 L1207 1242.8 L1208 1257.7 L1209 1230.5 L1210 1253.1 L1211 1241.2 L1212 1247 L1213 1238.7 L1214 1247.8 L1215 1248.7 L1216 1236.5 L1217 1242.7 L1218 1243.5 L1219 1244.4 L1220 1228.7 L1221 1225.2 L1222 1237.8 L1223 1244.6 L1224 1250.8 L1225 1237.6 L1226 1241.5 L1227 1238.8 L1228 1232.7 L1229 1240 L1230 1237.8 L1231 1239.2 L1232 1238.8 L1233 1239.8 L1234 1243.1 L1235 1252.4 L1236 1246 L1237 1245.5 L1238 1248.8 L1239 1248.3 L1240 1236.9 L1241 1248.6 L1242 1237.7 L1243 1244.1 L1244 1244.4 L1245 1249.5 L1246 1243 L1247 1249.5 L1248 1244.7 L1249 1250.6 L1250 1247.3 L1251 1244.8 L1252 1236.9 L1253 1244.7 L1254 1244.4 L1255 1238.2 L1256 1241 L1257 1243.2 L1258 1249.4 L1259 1254.8 L1260 1237.1 L1261 1239.2 L1262 1240.8 L1263 1248.4 L1264 1248.6 L1265 1248.3 L1266 1252.8 L1267 1248.8 L1268 1233.2 L1269 1249.3 L1270 1253.7 L1271 1240.5 L1272 1249.3 L1273 1245.4 L1274 1249.7 L1275 1245.9 L1276 1238.6 L1277 1243.1 L1278 1247.5 L1279 1258 L1280 1255.8 L1281 1248.7 L1282 1253.8 L1283 1236.4 L1284 1250.4 L1285 1251.2 L1286 1252.6 L1287 1250.3 L1288 1244.2 L1289 1257.2 L1290 1251.1 L1291 1247.2 L1292 1248.2 L1293 1247.9 L1294 1248.2 L1295 1246.6 L1296 1254.3 L1297 1246.1 L1298 1250.4 L1299 1253.7 L1300 1248.6 L1301 1251.8 L1302 1240.2 L1303 1246.1 L1304 1251.3 L1305 1255.1 L1306 1249.2 L1307 1241.2 L1308 1253.6 L1309 1249.3 L1310 1245.1 L1311 1250.5 L1312 1252.4 L1313 1255.8 L1314 1253.3 L1315 1243.4 L1316 1241.9 L1317 1243.7 L1318 1249.3 L1319 1246.2 L1320 1247.1 L1321 1234.1 L1322 1233.8 L1323 1240.8 L1324 1238.2 L1325 1251.4 L1326 1237.8 L1327 1241.9 L1328 1231.2 L1329 1238.6 L1330 1239.9 L1331 1236.3 L1332 1241.4 L1333 1232.9 L1334 1235.8 L1335 1239.9 L1336 1235.8 L1337 1237.7 L1338 1234.5 L1339 1239.2 L1340 1239.2 L1341 1234 L1342 1239.4 L1343 1240.9 L1344 1238.5 L1345 1237.6 L1346 1245.3 L1347 1242.1 L1348 1238.6 L1349 1248.3 L1350 1238.3 L1351 1240.7 L1352 1240.5 L1353 1250.2 L1354 1241.1 L1355 1234.2 L1356 1242.1 L1357 1231.6 L1358 1240.5 L1359 1237.4 L1360 1245.7 L1361 1242.3 L1362 1237.8 L1363 1224.1 L1364 1245.3 L1365 1236.7 L1366 1237 L1367 1240.2 L1368 1238.3 L1369 1236.6 L1370 1234 L1371 1231.3 L1372 1237.4 L1373 1236.5 L1374 1240.3 L1375 1236.5 L1376 1235.6 L1377 1231.9 L1378 1239.8 L1379 1233 L1380 1224.8 L1381 1230.9 L1382 1232.7 L1383 1235.9 L1383 1269.5 L1382 1257.3 L1381 1256.6 L1380 1258.6 L1379 1263.7 L1378 1272.1 L1377 1269.5 L1376 1268.2 L1375 1265 L1374 1264.3 L1373 1265.6 L1372 1264.2 L1371 1264.5 L1370 1266.5 L1369 1257.9 L1368 1265.3 L1367 1260.6 L1366 1262.2 L1365 1262.6 L1364 1258.8 L1363 1276.2 L1362 1258.3 L1361 1267.3 L1360 1258.3 L1359 1258.1 L1358 1263.2 L1357 1266.6 L1356 1276.2 L1355 1268 L1354 1274 L1353 1270.1 L1352 1270.4 L1351 1274.8 L1350 1273.7 L1349 1263.1 L1348 1274.8 L1347 1274.6 L1346 1289.5 L1345 1269.8 L1344 1270.8 L1343 1280.1 L1342 1265.9 L1341 1279.7 L1340 1264.2 L1339 1262.7 L1338 1265 L1337 1265.6 L1336 1269.5 L1335 1262.6 L1334 1264.9 L1333 1260.5 L1332 1261 L1331 1264.2 L1330 1271.9 L1329 1268.5 L1328 1271.3 L1327 1268.3 L1326 1273.9 L1325 1264.8 L1324 1271.7 L1323 1268.8 L1322 1270.5 L1321 1263 L1320 1270.4 L1319 1270.9 L1318 1266.4 L1317 1277.2 L1316 1278.9 L1315 1280.4 L1314 1274.7 L1313 1283.9 L1312 1272.9 L1311 1281.3 L1310 1275.7 L1309 1270.4 L1308 1278.5 L1307 1275.8 L1306 1272.7 L1305 1278.8 L1304 1276.4 L1303 1280.6 L1302 1272.8 L1301 1271.5 L1300 1279.2 L1299 1278.2 L1298 1276.3 L1297 1270.8 L1296 1282.7 L1295 1282.4 L1294 1281.3 L1293 1270.5 L1292 1279.2 L1291 1273.3 L1290 1277.1 L1289 1277.7 L1288 1285.6 L1287 1286.6 L1286 1278.1 L1285 1276.4 L1284 1268.6 L1283 1280.9 L1282 1269.6 L1281 1276.8 L1280 1271.5 L1279 1273 L1278 1279.1 L1277 1275.1 L1276 1271.7 L1275 1276.1 L1274 1272 L1273 1273.6 L1272 1282.3 L1271 1281.3 L1270 1277.8 L1269 1269.1 L1268 1273.8 L1267 1279 L1266 1277.6 L1265 1276.8 L1264 1275.9 L1263 1277.9 L1262 1273.4 L1261 1263.8 L1260 1268.9 L1259 1279.1 L1258 1274.5 L1257 1275 L1256 1273.7 L1255 1266.7 L1254 1270.5 L1253 1281.6 L1252 1270.7 L1251 1271.6 L1250 1268.7 L1249 1279.3 L1248 1263.4 L1247 1272.8 L1246 1272.4 L1245 1271.7 L1244 1272.6 L1243 1268.5 L1242 1268.3 L1241 1269.8 L1240 1269.4 L1239 1272.6 L1238 1268.9 L1237 1268.5 L1236 1275.7 L1235 1274.3 L1234 1276.1 L1233 1269 L1232 1265.8 L1231 1263.8 L1230 1267.4 L1229 1262.8 L1228 1260.9 L1227 1271.3 L1226 1274.1 L1225 1270.4 L1224 1272.5 L1223 1267.5 L1222 1262.9 L1221 1259.3 L1220 1264.5 L1219 1266.1 L1218 1272.3 L1217 1271.7 L1216 1269.9 L1215 1269.3 L1214 1276.7 L1213 1268.2 L1212 1260.7 L1211 1274.1 L1210 1286.7 L1209 1259.9 L1208 1287 L1207 1271 L1206 1283.5 L1205 1277.6 L1204 1276 L1203 1273.4 L1202 1280.4 L1201 1276.5 L1200 1284.3 L1199 1272.7 L1198 1294.8 L1197 1278.6 L1196 1275.1 L1195 1274.8 L1194 1278.8 L1193 1279.5 L1192 1276 L1191 1299.8 L1190 1277.5 L1189 1287.3 L1188 1292 L1187 1287.7 L1186 1298.1 L1185 1295.2 L1184 1292 L1183 1283.3 L1182 1287.4 L1181 1290.7 L1180 1291.8 L1179 1295.1 L1178 1299.8 L1177 1292 L1176 1298.6 L1175 1291.7 L1174 1294.5 L1173 1294.8 L1172 1308.8 L1171 1286.3 L1170 1292.3 L1169 1290.6 L1168 1290.6 L1167 1293.8 L1166 1291.1 L1165 1293.2 L1164 1295.8 L1163 1288.2 L1162 1295.4 L1161 1298.6 L1160 1290.3 L1159 1296.6 L1158 1290.7 L1157 1305.3 L1156 1285 L1155 1294.4 L1154 1293.6 L1153 1301.7 L1152 1289.1 L1151 1291.4 L1150 1292.5 L1149 1300.6 L1148 1299.7 L1147 1292 L1146 1293.4 L1145 1300.5 L1144 1299.4 L1143 1293.2 L1142 1304 L1141 1291.3 L1140 1297.5 L1139 1294.4 L1138 1290.8 L1137 1316.7 L1136 1293.6 L1135 1304 L1134 1293 L1133 1293.2 L1132 1302.8 L1131 1295.3 L1130 1305.4 L1129 1303.6 L1128 1302.8 L1127 1302.2 L1126 1294.6 L1125 1296.1 L1124 1301 L1123 1291.3 L1122 1289.2 L1121 1302.6 L1120 1307.7 L1119 1297.2 L1118 1319.8 L1117 1303.2 L1116 1308.5 L1115 1296 L1114 1303.4 L1113 1306.6 L1112 1305.5 L1111 1307.7 L1110 1302 L1109 1309.7 L1108 1303.4 L1107 1308.5 L1106 1318 L1105 1318.3 L1104 1318.9 L1103 1314.1 L1102 1312 L1101 1320 L1100 1327.1 L1099 1324.9 L1098 1324.8 L1097 1325.6 L1096 1322.4 L1095 1329.2 L1094 1330 L1093 1338.5 L1092 1336.7 L1091 1330.7 L1090 1344 L1089 1345.8 L1088 1351.8 L1087 1338.6 L1086 1367 L1085 1375.6 L1084 1408.3 L1083 1402.6 L1082 1410.8 L1081 1431.2 L1080 1438.1 L1079 1439.8 L1078 1442.4 L1077 1458.5 L1076 1447.2 L1075 1457.6 L1074 1461.8 L1073 1468.5 L1072 1463.6 L1071 1461.9 L1070 1443.5 L1069 1449.1 L1068 1444 L1067 1434 L1066 1428.8 L1065 1442.2 L1064 1425.8 L1063 1436.3 L1062 1441.4 L1061 1441.4 L1060 1445.7 L1059 1449.5 L1058 1461.9 L1057 1451.5 L1056 1462.5 L1055 1471.4 L1054 1470.1 L1053 1475.1 L1052 1487.1 L1051 1489 L1050 1497.1 L1049 1493.8 L1048 1508.6 L1047 1502.1 L1046 1508.3 L1045 1512.9 L1044 1516.1 L1043 1521.8 L1042 1518 L1041 1526.3 L1040 1529.7 L1039 1537.5 L1038 1539.6 L1037 1547.9 L1036 1562.2 L1035 1548.6 L1034 1561.8 L1033 1562.2 L1032 1572.9 L1031 1586.6 L1030 1586.2 L1029 1587.1 L1028 1595.2 L1027 1592.6 L1026 1589.2 L1025 1603.8 L1024 1615 L1023 1618.9 L1022 1628.6 L1021 1638.5 L1020 1643.9 L1019 1629.4 L1018 1622.5 L1017 1627.1 L1016 1622.9 L1015 1616.2 L1014 1624.2 L1013 1617.1 L1012 1616.5 L1011 1618.2 L1010 1601.3 L1009 1607.2 L1008 1609.3 L1007 1615.6 L1006 1603.7 L1005 1621.9 L1004 1612.3 L1003 1625.7 L1002 1633.8 L1001 1639.3 L1000 1645.7 L999 1654 L998 1665.1 L997 1670.3 L996 1669.2 L995 1684 L994 1683.4 L993 1692.7 L992 1691.6 L991 1694.1 L990 1706.3 L989 1715.6 L988 1703.4 L987 1715.2 L986 1713.8 L985 1715 L984 1717.8 L983 1716.9 L982 1723.4 L981 1724.9 L980 1726.1 L979 1726.4 L978 1726.1 L977 1729.6 L976 1726.2 L975 1731.8 L974 1734.8 L973 1731.4 L972 1735.3 L971 1743 L970 1749.2 L969 1740.7 L968 1744.3 L967 1748 L966 1748.4 L965 1756.1 L964 1761.8 L963 1761.8 L962 1764 L961 1764.7 L960 1762.5 L959 1765.8 L958 1777 L957 1769.4 L956 1774.3 L955 1782.4 L954 1775.9 L953 1771.9 L952 1777 L951 1770.2 L950 1764.4 L949 1763.2 L948 1766.3 L947 1763.6 L946 1756.9 L945 1758.2 L944 1756.5 L943 1769.2 L942 1763 L941 1761.9 L940 1764.7 L939 1759.2 L938 1763.4 L937 1762.6 L936 1775.4 L935 1775.2 L934 1772.7 L933 1779.6 L932 1767.9 L931 1773.3 L930 1780.1 L929 1781.1 L928 1781.4 L927 1787.8 L926 1788.4 L925 1790.2 L924 1790.5 L923 1800.2 L922 1793.2 L921 1795.9 L920 1807.3 L919 1800.5 L918 1799.2 L917 1815.9 L916 1805.1 L915 1800.5 L914 1808.8 L913 1817.7 L912 1818.6 L911 1820.1 L910 1823.6 L909 1831 L908 1840 L907 1827.5 L906 1830.7 L905 1838.7 L904 1835.4 L903 1829.8 L902 1836.9 L901 1838.2 L900 1849.7 L899 1845.8 L898 1855.6 L897 1852.3 L896 1862.6 L895 1863.9 L894 1871.6 L893 1861.1 L892 1864.9 L891 1869.4 L890 1865.4 L889 1877.2 L888 1874 L887 1872.7 L886 1875.9 L885 1882.2 L884 1876.7 L883 1875 L882 1886.1 L881 1881.3 L880 1882.1 L879 1882.1 L878 1881.9 L877 1883.2 L876 1883.3 L875 1889.7 L874 1889.7 L873 1890 L872 1896.6 L871 1897.2 L870 1908.4 L869 1904.2 L868 1903.7 L867 1909.1 L866 1913.8 L865 1910.6 L864 1909.6 L863 1919.2 L862 1917.3 L861 1922.2 L860 1923.1 L859 1924.5 L858 1927.1 L857 1923.3 L856 1930.3 L855 1931.3 L854 1940.5 L853 1934.6 L852 1940.4 L851 1939.1 L850 1952.4 L849 1950.4 L848 1941 L847 1944.3 L846 1954.9 L845 1955 L844 1946.5 L843 1953.1 L842 1941.6 L841 1951.2 L840 1945.9 L839 1943.6 L838 1943.9 L837 1954.1 L836 1950.1 L835 1959.7 L834 1951 L833 1950.6 L832 1953.9 L831 1956.9 L830 1956.4 L829 1953.7 L828 1943.2 L827 1956.2 L826 1949.1 L825 1960.6 L824 1954.3 L823 1953.8 L822 1948.1 L821 1960.2 L820 1955.7 L819 1957 L818 1954.4 L817 1961.5 L816 1949 L815 1950.3 L814 1945.7 L813 1944.1 L812 1959.5 L811 1953.9 L810 1947.9 L809 1956.2 L808 1952.5 L807 1951.9 L806 1953 L805 1956.9 L804 1954.2 L803 1948.1 L802 1945.1 L801 1963.1 L800 1953 L799 1961.3 L798 1951 L797 1951.5 L796 1950.6 L795 1951.3 L794 1951.6 L793 1948.2 L792 1947.9 L791 1951.1 L790 1954.8 L789 1947.3 L788 1946.9 L787 1956.4 L786 1943.8 L785 1954.2 L784 1952.5 L783 1947.5 L782 1948 L781 1945.9 L780 1952.1 L779 1955.2 L778 1955.3 L777 1951.4 L776 1944.5 L775 1953.6 L774 1956.1 L773 1945.9 L772 1951.9 L771 1948.7 L770 1969.6 L769 1960.6 L768 1952.7 L767 1947.1 L766 1942 L765 1949 L764 1950.2 L763 1949.3 L762 1949.2 L761 1945.7 L760 1947.4 L759 1948.7 L758 1948.6 L757 1950.8 L756 1947.3 L755 1941.6 L754 1945 L753 1956.4 L752 1954.5 L751 1952.1 L750 1951.6 L749 1944.8 L748 1941.4 L747 1943.1 L746 1940.9 L745 1943.1 L744 1939.7 L743 1948.1 L742 1940.7 L741 1948.3 L740 1954.5 L739 1949.2 L738 1950.7 L737 1955.3 L736 1953.6 L735 1944.7 L734 1939.4 L733 1943.6 L732 1944.2 L731 1939.5 L730 1938.8 L729 1936.5 L728 1942.6 L727 1928.9 L726 1922.3 L725 1930.9 L724 1926.5 L723 1925.2 L722 1926.1 L721 1917.3 L720 1924.2 L719 1912.8 L718 1914.3 L717 1905.8 L716 1908.8 L715 1903.7 L714 1904.7 L713 1899.4 L712 1907.7 L711 1895.3 L710 1892.2 L709 1894.6 L708 1895.4 L707 1890.7 L706 1885.2 L705 1880.8 L704 1879.2 L703 1874.3 L702 1869.9 L701 1873.3 L700 1864.4 L699 1864 L698 1880.5 L697 1868.4 L696 1860.5 L695 1869.2 L694 1867.6 L693 1862.8 L692 1859.3 L691 1855.4 L690 1855 L689 1853.8 L688 1844 L687 1853.1 L686 1850.3 L685 1842.7 L684 1841.5 L683 1841.6 L682 1837.7 L681 1838.8 L680 1836.1 L679 1833.8 L678 1832.3 L677 1831.3 L676 1837.5 L675 1829 L674 1831.5 L673 1828 L672 1830.9 L671 1823.8 L670 1827.9 L669 1825 L668 1820.6 L667 1814.7 L666 1819.5 L665 1819.3 L664 1825.1 L663 1817.8 L662 1821.1 L661 1822 L660 1816.5 L659 1811.8 L658 1818.4 L657 1824.3 L656 1817.4 L655 1815 L654 1817 L653 1820.2 L652 1837.3 L651 1824.9 L650 1824.9 L649 1824.7 L648 1827.3 L647 1827.7 L646 1829.1 L645 1823.6 L644 1834.5 L643 1828 L642 1832.4 L641 1842.4 L640 1831 L639 1832.7 L638 1832.4 L637 1833.8 L636 1838.1 L635 1846.3 L634 1843.2 L633 1842.9 L632 1854 L631 1851.8 L630 1855.3 L629 1853.7 L628 1862.9 L627 1857 L626 1859.3 L625 1859.6 L624 1869.6 L623 1871.1 L622 1867.7 L621 1874 L620 1874.8 L619 1873.8 L618 1877.1 L617 1882.8 L616 1882.9 L615 1874.4 L614 1883.8 L613 1887.1 L612 1878.1 L611 1886.4 L610 1887.5 L609 1892.2 L608 1894 L607 1899.3 L606 1896.7 L605 1903.9 L604 1909.1 L603 1910.8 L602 1912.2 L601 1907 L600 1911.9 L599 1920.3 L598 1911.2 L597 1919.9 L596 1916.2 L595 1926.1 L594 1919.1 L593 1924.7 L592 1926.3 L591 1934.4 L590 1927.3 L589 1930.1 L588 1934.4 L587 1925.6 L586 1929.3 L585 1930 L584 1933.7 L583 1933.7 L582 1934.6 L581 1942.7 L580 1953.3 L579 1945.5 L578 1936.9 L577 1941 L576 1951.3 L575 1943.6 L574 1954.1 L573 1950.6 L572 1950.4 L571 1943.2 L570 1950.2 L569 1949.9 L568 1945.5 L567 1961 L566 1938.7 L565 1945.3 L564 1947.7 L563 1951 L562 1949.6 L561 1948.9 L560 1961.2 L559 1952.1 L558 1944.9 L557 1952.7 L556 1948.6 L555 1949.6 L554 1947.3 L553 1950.5 L552 1943 L551 1947.2 L550 1942.2 L549 1945.8 L548 1943 L547 1949.6 L546 1942 L545 1951.3 L544 1951.6 L543 1951.6 L542 1955.4 L541 1951.5 L540 1955.2 L539 1951.6 L538 1948.4 L537 1956.9 L536 1949.2 L535 1959 L534 1948.7 L533 1956.4 L532 1961.8 L531 1956.4 L530 1954.4 L529 1959.6 L528 1957.9 L527 1957.6 L526 1948.2 L525 1957.1 L524 1947.7 L523 1956.1 L522 1955.8 L521 1952.2 L520 1956.1 L519 1955.3 L518 1953.3 L517 1951.5 L516 1954.4 L515 1949.5 L514 1950.1 L513 1951.6 L512 1950.5 L511 1954.6 L510 1955.9 L509 1945.5 L508 1950.9 L507 1950.4 L506 1958.6 L505 1960.9 L504 1952.3 L503 1951.1 L502 1951.8 L501 1949.5 L500 1954.4 L499 1948.3 L498 1944.9 L497 1954.4 L496 1957.5 L495 1946.3 L494 1947.7 L493 1954.5 L492 1952 L491 1946.3 L490 1955.1 L489 1951.6 L488 1953.2 L487 1949.5 L486 1956.8 L485 1945.1 L484 1944.1 L483 1949.8 L482 1942 L481 1958.1 L480 1956.7 L479 1952 L478 1960.7 L477 1939 L476 1943.5 L475 1942.4 L474 1948.3 L473 1942.1 L472 1941.7 L471 1942 L470 1935.8 L469 1923.6 L468 1931.6 L467 1928.3 L466 1925.4 L465 1919.4 L464 1914.5 L463 1916.6 L462 1916.4 L461 1911.6 L460 1898.5 L459 1904.2 L458 1901.2 L457 1901.6 L456 1900.7 L455 1886.3 L454 1890.8 L453 1888.4 L452 1886.1 L451 1879.3 L450 1879.9 L449 1884.4 L448 1882.1 L447 1872.5 L446 1867.8 L445 1871.5 L444 1871.3 L443 1864.4 L442 1862.7 L441 1866.5 L440 1861.2 L439 1855.6 L438 1846.3 L437 1859.6 L436 1859.3 L435 1855.7 L434 1845.9 L433 1849 L432 1852 L431 1840.9 L430 1857.4 L429 1841.6 L428 1842.9 L427 1845.5 L426 1834.2 L425 1834.9 L424 1837.6 L423 1823.9 L422 1824.7 L421 1826.6 L420 1822.8 L419 1810.5 L418 1818.8 L417 1818.6 L416 1810.9 L415 1810.2 L414 1804.3 L413 1815.8 L412 1808.2 L411 1801.4 L410 1810.7 L409 1808.3 L408 1795.9 L407 1798.8 L406 1796.7 L405 1804.5 L404 1792.4 L403 1803.2 L402 1791.8 L401 1791.5 L400 1787.1 L399 1794 L398 1779.2 L397 1784.6 L396 1777.2 L395 1773.9 L394 1765.3 L393 1763.1 L392 1765.9 L391 1770.9 L390 1770.3 L389 1762.9 L388 1763.2 L387 1766.6 L386 1760.2 L385 1770.8 L384 1762.5 L383 1761.1 L382 1760.5 L381 1766.9 L380 1763.2 L379 1757.1 L378 1762.5 L377 1764.6 L376 1765.7 L375 1761.5 L374 1763.9 L373 1761.5 L372 1761.5 L371 1756.4 L370 1758.5 L369 1757.9 L368 1749.6 L367 1746.1 L366 1753.1 L365 1746.3 L364 1746.1 L363 1738.4 L362 1740.1 L361 1737.3 L360 1733.1 L359 1734.5 L358 1724.7 L357 1722.7 L356 1721.1 L355 1724.3 L354 1707 L353 1708.9 L352 1704.7 L351 1703 L350 1700.3 L349 1698.6 L348 1698.8 L347 1691.6 L346 1684.5 L345 1678.5 L344 1687.7 L343 1684.5 L342 1675.1 L341 1658.9 L340 1659.7 L339 1657.8 L338 1641.6 L337 1641.2 L336 1632.9 L335 1627.2 L334 1620.5 L333 1616.4 L332 1605.4 L331 1602.9 L330 1605.1 L329 1609.4 L328 1592.7 L327 1593 L326 1586.4 L325 1589.1 L324 1599.3 L323 1599.6 L322 1601.1 L321 1606.7 L320 1605.5 L319 1619.9 L318 1618.2 L317 1619.7 L316 1625.7 L315 1623.6 L314 1617.3 L313 1608.7 L312 1607.4 L311 1601.6 L310 1592.9 L309 1583 L308 1585.8 L307 1567.9 L306 1559.7 L305 1569.4 L304 1557.7 L303 1550.2 L302 1557.9 L301 1539.8 L300 1530.4 L299 1530.4 L298 1514.3 L297 1516.1 L296 1509.4 L295 1512.9 L294 1500.5 L293 1503.2 L292 1498.9 L291 1502.4 L290 1498.6 L289 1500.9 L288 1492 L287 1487.8 L286 1480.7 L285 1461.4 L284 1464.4 L283 1466.3 L282 1452 L281 1438.1 L280 1443.7 L279 1438.3 L278 1429.7 L277 1423.3 L276 1425.6 L275 1416.3 L274 1413 L273 1413.2 L272 1405.4 L271 1405.9 L270 1403.4 L269 1415.6 L268 1426.9 L267 1439.2 L266 1440.7 L265 1441.8 L264 1437.5 L263 1427 L262 1433 L261 1418.7 L260 1414.3 L259 1409.3 L258 1397.3 L257 1397.4 L256 1389.5 L255 1375.5 L254 1384.6 L253 1371.5 L252 1367.9 L251 1362 L250 1350.8 L249 1344.8 L248 1336.1 L247 1322.7 L246 1314.9 L245 1317.8 L244 1308.4 L243 1312.1 L242 1297.1 L241 1312.7 L240 1291.9 L239 1290.4 L238 1284.4 L237 1276.4 L236 1274.5 L235 1264.4 L234 1264.6 L233 1271.4 L232 1270.8 L231 1255.3 L230 1256.5 L229 1250.8 L228 1255.9 L227 1243.3 L226 1243.3 L225 1252 L224 1232.8 L223 1248.5 L222 1241.2 L221 1240.3 L220 1237.1 L219 1243.2 L218 1247.9 L217 1247.2 L216 1231.8 L215 1240.8 L214 1239.1 L213 1248.3 L212 1244.3 L211 1245.2 L210 1235.8 L209 1236.5 L208 1257 L207 1246.5 L206 1243.8 L205 1258.1 L204 1248.1 L203 1251.3 L202 1254.2 L201 1256.3 L200 1236.3 L199 1236.5 L198 1239.9 L197 1244.9 L196 1238 L195 1251.9 L194 1240.4 L193 1244.3 L192 1258.6 L191 1250.1 L190 1250.6 L189 1244.8 L188 1243 L187 1252.6 L186 1248.7 L185 1259.3 L184 1243.5 L183 1256.7 L182 1244.4 L181 1241.5 L180 1245.3 L179 1255.1 L178 1253.7 L177 1251.2 L176 1250.6 L175 1250.6 L174 1249.1 L173 1260.4 L172 1243.9 L171 1246.6 L170 1255.2 L169 1252.2 L168 1242 L167 1245.7 L166 1247.8 L165 1246.2 L164 1248 L163 1249.1 L162 1247.8 L161 1246.3 L160 1250.5 L159 1241.4 L158 1246.2Z" fill="#e13434" stroke="#e13434" stroke-width="2.6" stroke-linejoin="round"/>
<line x1="157.5" y1="1224.4" x2="1383.5" y2="1224.4" stroke="#000" stroke-opacity="0.45" stroke-width="2.4"/>
<g stroke="#d9d9d9" stroke-width="2"><line x1="176.2" y1="3093.5" x2="1390.5" y2="3093.5"/><line x1="176.2" y1="2986.7" x2="1390.5" y2="2986.7"/><line x1="176.2" y1="2879.9" x2="1390.5" y2="2879.9"/><line x1="176.2" y1="2773.1" x2="1390.5" y2="2773.1"/><line x1="176.2" y1="2666.3" x2="1390.5" y2="2666.3"/><line x1="176.2" y1="2559.5" x2="1390.5" y2="2559.5"/><line x1="176.2" y1="2452.7" x2="1390.5" y2="2452.7"/><line x1="392.4" y1="2372.6" x2="392.4" y2="3112.3"/><line x1="608.6" y1="2372.6" x2="608.6" y2="3112.3"/><line x1="824.8" y1="2372.6" x2="824.8" y2="3112.3"/><line x1="1041" y1="2372.6" x2="1041" y2="3112.3"/><line x1="1257.2" y1="2372.6" x2="1257.2" y2="3112.3"/></g>
<path d="M161.2 3093.5H191.2M161.2 2986.7H191.2M161.2 2879.9H191.2M161.2 2773.1H191.2M161.2 2666.3H191.2M161.2 2559.5H191.2M161.2 2452.7H191.2M168.2 3040.1H184.2M168.2 2933.3H184.2M168.2 2826.5H184.2M168.2 2719.7H184.2M168.2 2612.9H184.2M168.2 2506.1H184.2M168.2 2399.3H184.2M392.4 3097.3V3127.3M608.6 3097.3V3127.3M824.8 3097.3V3127.3M1041 3097.3V3127.3M1257.2 3097.3V3127.3M284.3 3104.3V3120.3M500.5 3104.3V3120.3M716.7 3104.3V3120.3M932.9 3104.3V3120.3M1149.1 3104.3V3120.3M1365.3 3104.3V3120.3" stroke="#111" stroke-width="2.6" fill="none"/>
<rect x="176.2" y="2372.6" width="1214.3" height="739.7" fill="none" stroke="#111" stroke-width="2.8"/>
<path d="M177 3110.2 L178 3110.6 L179 3110.3 L180 3110.6 L181 3110.7 L181.9 3110 L182.9 3109.9 L183.9 3110.9 L184.9 3110.2 L185.9 3110.2 L186.9 3111.1 L187.9 3110.5 L188.9 3110.9 L189.9 3110.5 L190.9 3110.7 L191.8 3110.1 L192.8 3110.7 L193.8 3110.9 L194.8 3110.5 L195.8 3110.8 L196.8 3110.7 L197.8 3110 L198.8 3110.8 L199.8 3110.6 L200.8 3110.3 L201.7 3109.9 L202.7 3110.9 L203.7 3110.5 L204.7 3110.8 L205.7 3111 L206.7 3110.8 L207.7 3111 L208.7 3110.4 L209.7 3110.9 L210.7 3110.4 L211.6 3111 L212.6 3111 L213.6 3110 L214.6 3110.1 L215.6 3110.2 L216.6 3111.1 L217.6 3110.4 L218.6 3110.7 L219.6 3110.3 L220.6 3110.5 L221.5 3110.4 L222.5 3110.3 L223.5 3110.6 L224.5 3110.6 L225.5 3111 L226.5 3110.7 L227.5 3111 L228.5 3110.9 L229.5 3111.1 L230.5 3110.7 L231.4 3110.1 L232.4 3110.9 L233.4 3111.1 L234.4 3111 L235.4 3110.6 L236.4 3110.8 L237.4 3110.2 L238.4 3110.9 L239.4 3110.6 L240.4 3110.2 L241.3 3110 L242.3 3110.9 L243.3 3111.1 L244.3 3110 L245.3 3110.9 L246.2 3109.6 L247.1 3107.2 L248 3104.4 L248.9 3101.5 L249.8 3098.1 L250.7 3094 L251.7 3091.6 L252.6 3087.7 L253.6 3085.4 L254.6 3081.7 L255.5 3079.1 L256.5 3076 L257.4 3072.1 L258.4 3069.3 L259.4 3065 L260.3 3061.3 L261.3 3058.4 L262.2 3054.1 L263.2 3050.7 L264.2 3047.3 L265.1 3043.9 L266.1 3039.6 L267 3035.7 L268 3032.9 L268.9 3028.3 L269.8 3025 L270.8 3020.8 L271.7 3016 L272.6 3011.9 L273.5 3007.8 L274.5 3003.8 L275.4 2999.6 L276.3 2995.4 L277.3 2991.5 L278.2 2987.9 L279.2 2983.4 L280.1 2979.3 L281.1 2975.7 L282.1 2971.3 L283.1 2967.5 L284 2964.4 L285 2960 L286 2956.2 L287 2951.7 L287.9 2948.3 L288.9 2944.7 L289.9 2940.2 L290.9 2937.2 L291.8 2933.4 L292.8 2928.9 L293.8 2925.8 L294.8 2921.9 L295.7 2918.4 L296.7 2914.2 L297.7 2910.9 L298.7 2907.1 L299.6 2902.5 L300.6 2898.7 L301.6 2895.7 L302.6 2892.2 L303.5 2887.6 L304.5 2884 L305.5 2880.3 L306.5 2876.1 L307.5 2872.2 L308.5 2868.1 L309.5 2864.2 L310.4 2860.5 L311.4 2856.1 L312.4 2852.1 L313.4 2848.5 L314.4 2843.5 L315.4 2840.1 L316.4 2836.2 L317.4 2831.6 L318.4 2827.5 L319.3 2824.1 L320.3 2819.4 L321.3 2815.3 L322.3 2811.6 L323.3 2807.9 L324.3 2803.2 L325.3 2799.6 L326.3 2795.7 L327.3 2792.4 L328.2 2788.1 L329.2 2784.9 L330.2 2780.3 L331.2 2776.8 L332.2 2773.6 L333.2 2770.3 L334.2 2766.3 L335.1 2762.5 L336.1 2758.9 L337.1 2756 L338.1 2752.2 L339 2749.5 L340 2746.1 L341 2742 L342 2738.8 L342.9 2736.1 L343.9 2732.6 L344.9 2729.5 L345.9 2725.7 L346.8 2722.1 L347.8 2719.1 L348.8 2716.5 L349.8 2712.7 L350.7 2709.6 L351.7 2706.5 L352.7 2703.3 L353.7 2700.2 L354.6 2697.7 L355.6 2693.7 L356.6 2690.4 L357.6 2688.4 L358.5 2685.3 L359.5 2682.4 L360.5 2678.7 L361.5 2676.3 L362.4 2673.2 L363.4 2669.4 L364.4 2667 L365.4 2664.1 L366.4 2660.9 L367.4 2657.7 L368.4 2654.4 L369.3 2651.5 L370.3 2648.4 L371.3 2645.3 L372.3 2643 L373.3 2639.7 L374.3 2637.5 L375.3 2633.7 L376.3 2631.8 L377.3 2628.7 L378.3 2626.1 L379.2 2623.2 L380.2 2620.4 L381.2 2617.2 L382.2 2613.7 L383.2 2611.8 L384.2 2608.3 L385.2 2605.7 L386.2 2603.4 L387.2 2600.4 L388.1 2597.6 L389.1 2595.5 L390.1 2592.3 L391.1 2589.3 L392.1 2586.5 L393.1 2584.5 L394.1 2581.3 L395.1 2579 L396.1 2575.8 L397.1 2572.9 L398 2570.7 L399 2568.3 L400 2564.9 L401 2563 L402 2560.5 L403 2557.7 L404 2555.1 L404.9 2551.5 L405.9 2549.6 L406.9 2547.3 L407.9 2543.7 L408.9 2541.4 L409.8 2538.8 L410.8 2536.5 L411.8 2533.8 L412.8 2531.3 L413.8 2529.2 L414.7 2525.8 L415.7 2523.4 L416.7 2521 L417.7 2518.6 L418.7 2516.2 L419.6 2515 L420.6 2512.6 L421.6 2509.5 L422.6 2507.9 L423.5 2505.6 L424.5 2503.6 L425.4 2501.6 L426.4 2500 L427.3 2497.9 L428.3 2495.7 L429.2 2493.6 L430.2 2491.9 L431.2 2489.8 L432.1 2488.5 L433.1 2486.8 L434 2484.6 L435 2482.5 L435.9 2480.8 L436.9 2479.3 L437.8 2477.9 L438.8 2476.3 L439.8 2474.1 L440.8 2472.8 L441.8 2470.9 L442.8 2468.9 L443.8 2467.2 L444.8 2465.7 L445.8 2464.3 L446.7 2462.3 L447.7 2461 L448.7 2459.1 L449.7 2457.2 L450.7 2456 L451.7 2454.6 L452.7 2452.3 L453.7 2451.2 L454.6 2449.6 L455.6 2448.6 L456.6 2447.1 L457.6 2444.9 L458.5 2444 L459.5 2442.3 L460.5 2440.1 L461.5 2438.8 L462.4 2436.9 L463.4 2436.2 L464.4 2434.5 L465.4 2433.2 L466.3 2431.6 L467.3 2430 L468.3 2428.6 L469.3 2427 L470.2 2425 L471.2 2424.2 L472.2 2422.1 L473.2 2421 L474.1 2420.4 L475.1 2418.2 L476.1 2417 L477.1 2415.8 L478 2415.5 L479 2413.5 L480 2412.2 L480.9 2412.1 L481.9 2410.2 L482.8 2410 L483.8 2408.7 L484.7 2407.9 L485.7 2407 L486.6 2405.6 L487.6 2404.9 L488.5 2403 L489.5 2403 L490.4 2401.7 L491.4 2401.1 L492.3 2399.5 L493.3 2399.4 L494.2 2398.8 L495.2 2396.9 L496.1 2396.4 L497.1 2395.9 L498.1 2395.4 L499.1 2393.8 L500.1 2392.9 L501.1 2392.2 L502.1 2391.8 L503.1 2391.1 L504.1 2389.9 L505.1 2389.1 L506.1 2388.3 L507.1 2387.5 L508.1 2386.8 L509 2385.6 L510 2385.4 L511 2385.3 L512 2383.9 L513 2383.7 L514 2382.4 L515 2382.5 L516 2382 L517 2381.4 L518 2380.8 L519 2380.3 L520 2380.2 L521 2380.2 L522 2378.9 L522.9 2378.5 L523.9 2379 L524.9 2378.9 L525.9 2378.1 L526.8 2377.7 L527.8 2377.8 L528.8 2376.9 L529.8 2376.7 L530.7 2376.3 L531.7 2376.5 L532.7 2376 L533.7 2375.6 L534.7 2376 L535.6 2376.1 L536.6 2375.1 L537.6 2375.4 L538.6 2374.9 L539.5 2375.3 L540.5 2374.9 L541.5 2374.4 L542.5 2374.3 L543.4 2374 L544.4 2374.5 L545.4 2374.4 L546.4 2374.1 L547.4 2374.4 L548.4 2374.4 L549.4 2375.1 L550.4 2374.5 L551.4 2375.7 L552.4 2375.3 L553.4 2375.6 L554.4 2375.7 L555.4 2376.4 L556.4 2376.7 L557.4 2376.7 L558.4 2376.9 L559.4 2377.5 L560.4 2378 L561.4 2377.7 L562.4 2378.5 L563.4 2379.1 L564.4 2378.8 L565.4 2378.9 L566.4 2379.2 L567.4 2380.1 L568.3 2380.4 L569.3 2381.1 L570.2 2381.3 L571.2 2381 L572.2 2381.3 L573.1 2381.8 L574.1 2382.2 L575 2383.2 L576 2383.9 L577 2384.4 L577.9 2384.1 L578.9 2385.4 L579.8 2385.2 L580.8 2385.9 L581.7 2386.8 L582.7 2386.6 L583.7 2387.1 L584.6 2388.6 L585.6 2388.6 L586.5 2389.2 L587.5 2390.1 L588.5 2390.8 L589.4 2390.7 L590.4 2391.8 L591.3 2392.6 L592.3 2393.4 L593.3 2393.9 L594.2 2395.1 L595.2 2396.4 L596.1 2396.6 L597.1 2397.6 L598 2398 L599 2399.1 L600 2400.4 L600.9 2400.7 L601.9 2402.5 L602.8 2403.5 L603.8 2403.4 L604.8 2405.4 L605.7 2405.6 L606.7 2407 L607.6 2407.9 L608.6 2408.3 L609.6 2409.6 L610.6 2410.5 L611.6 2411.6 L612.5 2411.9 L613.5 2413.4 L614.5 2414.5 L615.5 2415.1 L616.5 2415.9 L617.5 2416.3 L618.5 2417.8 L619.5 2418.6 L620.5 2420.1 L621.4 2421.1 L622.4 2422.1 L623.4 2422.7 L624.4 2424.5 L625.4 2425.7 L626.4 2426.5 L627.4 2428.7 L628.4 2429.8 L629.3 2430.6 L630.3 2433.1 L631.3 2433.7 L632.3 2435.5 L633.3 2437.6 L634.3 2439.1 L635.3 2440.7 L636.2 2442.5 L637.2 2444 L638.2 2445.6 L639.2 2447.2 L640.2 2448.8 L641.2 2451.3 L642.1 2453.3 L643.1 2455 L644 2457.3 L645 2458.9 L645.9 2460.9 L646.9 2463 L647.8 2465.6 L648.8 2466.5 L649.7 2468.8 L650.7 2470.1 L651.6 2472.3 L652.6 2473.4 L653.5 2475 L654.5 2476.7 L655.4 2478.5 L656.4 2480.4 L657.3 2481.4 L658.2 2483.4 L659.2 2483.8 L660.1 2485.1 L661.1 2485.8 L662 2486.5 L663 2487.7 L663.9 2487.8 L664.9 2487 L665.9 2486.6 L666.9 2486.3 L667.9 2485.9 L668.9 2485.1 L669.9 2483.9 L670.9 2482.5 L671.9 2480.6 L672.9 2479.5 L673.9 2477.8 L674.9 2476.8 L675.9 2475.3 L676.9 2473.4 L677.9 2472 L678.9 2471.3 L679.9 2469.1 L680.9 2468.8 L681.9 2467.6 L682.9 2466.4 L683.9 2464.4 L684.9 2463.2 L685.9 2461.8 L686.9 2460.5 L687.9 2459.5 L688.9 2457.7 L689.9 2455.8 L690.9 2455 L691.9 2453.1 L692.9 2451.8 L693.9 2450.6 L694.9 2448.3 L695.9 2447.8 L696.9 2446.4 L697.9 2444.8 L698.9 2443.6 L699.9 2442.3 L700.9 2440.7 L701.9 2439.9 L702.9 2438.1 L703.9 2437.5 L704.9 2436.4 L705.9 2435 L706.9 2434 L707.9 2433.3 L708.9 2432.1 L709.9 2430 L710.9 2429.6 L711.9 2428.3 L712.8 2426.5 L713.8 2425.8 L714.8 2424.6 L715.8 2423.3 L716.8 2422.8 L717.8 2422.2 L718.8 2420.4 L719.8 2420.1 L720.8 2418.9 L721.8 2417.2 L722.8 2417.1 L723.8 2415.9 L724.8 2415.3 L725.8 2414.1 L726.8 2413.3 L727.8 2411.9 L728.8 2411.6 L729.8 2410.8 L730.8 2409.9 L731.8 2408.5 L732.8 2408.1 L733.8 2406.9 L734.8 2405.6 L735.8 2404.7 L736.8 2404 L737.7 2403.3 L738.7 2402.5 L739.7 2402.1 L740.7 2401.6 L741.7 2400.6 L742.7 2399.8 L743.7 2399.3 L744.7 2398.2 L745.7 2397.6 L746.7 2397.3 L747.7 2396.1 L748.7 2395.2 L749.7 2395.4 L750.7 2394.5 L751.7 2393.4 L752.7 2392.7 L753.7 2392.2 L754.7 2391.6 L755.7 2390.5 L756.7 2389.6 L757.7 2389.1 L758.7 2389.2 L759.7 2387.7 L760.7 2387.5 L761.7 2386.5 L762.6 2385.9 L763.6 2385.3 L764.6 2384.9 L765.6 2384.1 L766.6 2383.4 L767.6 2382.9 L768.6 2382.5 L769.6 2382.4 L770.6 2381.4 L771.6 2380.9 L772.6 2381 L773.6 2380.5 L774.6 2380.5 L775.6 2379.4 L776.6 2379.5 L777.6 2379.1 L778.6 2378.4 L779.6 2379.2 L780.6 2377.9 L781.6 2377.5 L782.6 2377.6 L783.6 2376.9 L784.6 2377.2 L785.6 2376.6 L786.6 2376 L787.6 2375.7 L788.6 2376.2 L789.6 2375.4 L790.6 2375.8 L791.6 2375.2 L792.6 2375.6 L793.6 2374.7 L794.6 2374.4 L795.6 2374.3 L796.6 2374.8 L797.6 2374.5 L798.6 2374.1 L799.6 2373.7 L800.6 2374.4 L801.5 2374.7 L802.5 2374.2 L803.4 2373.4 L804.4 2373.4 L805.3 2373.4 L806.3 2373.5 L807.2 2373.3 L808.2 2373.3 L809.1 2374 L810.1 2374.3 L811 2373.4 L812 2374.4 L813 2373.8 L813.9 2374.2 L814.9 2374.5 L815.9 2374.6 L816.8 2373.7 L817.8 2374.2 L818.8 2374.8 L819.7 2375.5 L820.7 2374.7 L821.7 2375.2 L822.6 2376.2 L823.6 2375.6 L824.6 2376.2 L825.5 2376.4 L826.5 2377.1 L827.5 2377.7 L828.5 2377.2 L829.5 2378.2 L830.5 2378.7 L831.5 2379.2 L832.5 2379.4 L833.5 2380.3 L834.5 2380.2 L835.5 2380.8 L836.5 2381.1 L837.5 2382.4 L838.4 2382.6 L839.4 2383 L840.4 2383.5 L841.4 2384.8 L842.4 2385.4 L843.4 2386.1 L844.4 2386.4 L845.4 2387.2 L846.4 2387.5 L847.4 2388.8 L848.4 2388.7 L849.4 2389.9 L850.4 2390.9 L851.4 2391.5 L852.4 2391.4 L853.4 2392.3 L854.4 2393.7 L855.4 2394.2 L856.4 2395.2 L857.4 2396 L858.4 2396.2 L859.4 2397.5 L860.4 2398.1 L861.4 2398.4 L862.4 2399.2 L863.4 2399.7 L864.4 2400.9 L865.4 2402.4 L866.4 2402.2 L867.4 2403.6 L868.4 2403.9 L869.4 2404.8 L870.4 2406.3 L871.4 2406.8 L872.4 2407.5 L873.4 2408.5 L874.4 2410.1 L875.4 2411 L876.4 2411.3 L877.4 2412.6 L878.4 2414.5 L879.4 2414.7 L880.4 2416.2 L881.4 2417.1 L882.4 2418.7 L883.4 2419.6 L884.4 2421 L885.4 2421.9 L886.4 2422.7 L887.3 2423.9 L888.3 2425 L889.3 2427.2 L890.3 2427.6 L891.3 2428.7 L892.3 2431.2 L893.3 2431.6 L894.3 2433.7 L895.3 2434.1 L896.3 2435.9 L897.3 2436.9 L898.3 2439 L899.3 2440.1 L900.3 2441.6 L901.3 2443.1 L902.3 2444.7 L903.3 2445.5 L904.3 2447.3 L905.3 2448.6 L906.3 2449.7 L907.3 2452.1 L908.3 2453.3 L909.3 2455.2 L910.3 2456 L911.3 2458 L912.2 2459.5 L913.2 2461.5 L914.2 2462.3 L915.2 2464.3 L916.2 2466.2 L917.2 2467.4 L918.2 2469.6 L919.2 2471.6 L920.2 2472.9 L921.2 2474.9 L922.2 2476.6 L923.2 2477.9 L924.2 2479.8 L925.2 2482.4 L926.2 2483.4 L927.2 2485.3 L928.2 2486.7 L929.2 2488.7 L930.2 2490.6 L931.2 2493.4 L932.2 2495 L933.2 2497.1 L934.2 2499.2 L935.2 2500.7 L936.2 2503 L937.1 2504.6 L938.1 2506.4 L939.1 2509.1 L940.1 2511.1 L941.1 2513.2 L942.1 2514.7 L943.1 2517.1 L944.1 2518.7 L945.1 2521.5 L946.1 2523.6 L947.1 2525 L948.1 2527.9 L949.1 2529.1 L950.1 2531.2 L951.1 2534.1 L952.1 2535.8 L953.1 2538.3 L954.1 2540.7 L955.1 2542.3 L956.1 2545.4 L957.1 2547.2 L958.1 2549.7 L959.1 2551.9 L960.1 2554.7 L961.1 2557.1 L962.1 2558.9 L963.1 2561.1 L964.1 2563.8 L965.1 2566.4 L966.1 2568.4 L967.1 2571 L968.1 2574.2 L969.1 2576.7 L970.1 2579.5 L971.1 2582.1 L972.1 2584.5 L973.1 2586.5 L974.1 2588.9 L975.1 2591.7 L976.1 2594.4 L977 2597.2 L978 2599.8 L979 2602.3 L980 2605.6 L980.9 2607.7 L981.9 2610.7 L982.9 2614 L983.9 2616.7 L984.8 2618.9 L985.8 2621.7 L986.8 2625.2 L987.8 2627.2 L988.8 2630.2 L989.7 2633.6 L990.7 2636.5 L991.7 2639 L992.7 2641.8 L993.6 2644.9 L994.6 2648.5 L995.6 2651.1 L996.6 2654.7 L997.5 2657.4 L998.5 2660.6 L999.5 2662.4 L1000.5 2665.6 L1001.5 2668.3 L1002.4 2671.8 L1003.4 2674.7 L1004.4 2677.3 L1005.4 2680.9 L1006.3 2683.4 L1007.3 2686.7 L1008.3 2689.6 L1009.3 2693.4 L1010.2 2696 L1011.2 2698.8 L1012.2 2701.6 L1013.2 2705.2 L1014.1 2708.5 L1015.1 2711.7 L1016.1 2715.1 L1017.1 2718.1 L1018 2720.6 L1019 2723.6 L1020 2727.5 L1021 2730.7 L1021.9 2733.6 L1022.9 2737.2 L1023.9 2740.1 L1024.9 2742.9 L1025.8 2745.9 L1026.8 2748.8 L1027.7 2752.7 L1028.7 2756.1 L1029.6 2759.2 L1030.6 2761.9 L1031.5 2765.3 L1032.5 2768.7 L1033.4 2771.8 L1034.4 2774.8 L1035.3 2777.8 L1036.3 2781.2 L1037.2 2784.1 L1038.2 2787.4 L1039.1 2791.4 L1040.1 2795.3 L1041 2798.2 L1042 2801.6 L1042.9 2805.1 L1043.9 2808.9 L1044.9 2813.1 L1045.8 2816.6 L1046.8 2821.2 L1047.7 2824.4 L1048.7 2828.7 L1049.6 2833.2 L1050.6 2837.4 L1051.5 2842.2 L1052.5 2846.6 L1053.4 2851.1 L1054.4 2855.1 L1055.3 2858.8 L1056.3 2863.8 L1057.2 2868.1 L1058.2 2872.3 L1059.1 2876.3 L1060.1 2881 L1061.1 2885.5 L1062.1 2888.7 L1063.1 2893.6 L1064.1 2897.5 L1065.1 2901.9 L1066.1 2906.5 L1067 2910.8 L1068 2914.5 L1069 2918.1 L1070 2923.2 L1071 2926.4 L1072 2930.8 L1073 2935.4 L1074 2938.8 L1075 2942.8 L1076 2947.6 L1076.9 2951.5 L1077.9 2954.7 L1078.9 2958.7 L1079.9 2962.5 L1080.9 2966.3 L1081.9 2970.4 L1082.8 2975.3 L1083.8 2978.3 L1084.8 2982.6 L1085.8 2986.7 L1086.8 2991 L1087.8 2996.2 L1088.8 3001.2 L1089.8 3005.9 L1090.8 3010 L1091.8 3014.3 L1092.7 3016.6 L1093.6 3019.9 L1094.5 3023.7 L1095.4 3025.5 L1096.3 3028.6 L1097.2 3031.8 L1098 3034.4 L1098.8 3037.6 L1099.7 3039.7 L1100.6 3042.6 L1101.5 3046.1 L1102.4 3047.3 L1103.3 3049.7 L1104.2 3050.1 L1105.2 3052.3 L1106.1 3053.2 L1107 3054.8 L1107.9 3055.9 L1108.8 3057.6 L1109.7 3060.2 L1110.6 3060.9 L1111.5 3062.2 L1112.4 3064.1 L1113.3 3065.2 L1114.2 3065.2 L1115.1 3067.1 L1116 3067.2 L1117 3067.7 L1118 3067.9 L1118.9 3068.7 L1119.8 3069.9 L1120.8 3069.6 L1121.8 3069.9 L1122.7 3070.6 L1123.6 3071.3 L1124.6 3072.5 L1125.5 3074.1 L1126.5 3074.1 L1127.4 3075.2 L1128.3 3077 L1129.3 3077.8 L1130.2 3078.4 L1131.1 3077.9 L1132.1 3078.3 L1133 3079.3 L1134 3079 L1134.9 3079.5 L1135.8 3079.3 L1136.8 3079.2 L1137.7 3079.9 L1138.7 3080.8 L1139.6 3081.3 L1140.6 3081.6 L1141.5 3082 L1142.5 3082.6 L1143.5 3083 L1144.4 3083.7 L1145.4 3084.5 L1146.3 3084.1 L1147.3 3084.8 L1148.3 3085.4 L1149.2 3085.5 L1150.2 3084.9 L1151.1 3086.1 L1152.1 3086.1 L1153 3085.5 L1154 3085.8 L1154.9 3085.9 L1155.9 3085.9 L1156.9 3087.1 L1157.8 3086.5 L1158.8 3087.2 L1159.7 3086.4 L1160.7 3086.4 L1161.6 3087.5 L1162.6 3087.4 L1163.5 3087.7 L1164.5 3087.3 L1165.4 3087.1 L1166.4 3087.4 L1167.3 3086.5 L1168.3 3087 L1169.2 3086.9 L1170.1 3086.5 L1171.1 3086.9 L1172 3086.6 L1172.9 3086.7 L1173.9 3086.5 L1174.8 3086.4 L1175.8 3086.4 L1176.7 3086.7 L1177.7 3087.2 L1178.7 3087.2 L1179.6 3087.2 L1180.6 3087.2 L1181.6 3086.7 L1182.6 3087.7 L1183.6 3087 L1184.5 3087 L1185.5 3087.7 L1186.5 3088.2 L1187.5 3088 L1188.5 3088.6 L1189.4 3088.4 L1190.4 3089.5 L1191.4 3089.2 L1192.4 3089.5 L1193.4 3089.9 L1194.3 3090.6 L1195.3 3091.1 L1196.3 3090.8 L1197.2 3091.1 L1198.1 3091.8 L1199 3091.7 L1199.9 3092.7 L1200.9 3093.8 L1201.8 3094.2 L1202.7 3093.7 L1203.6 3094.9 L1204.5 3094.5 L1205.4 3095.4 L1206.3 3094.7 L1207.2 3094.7 L1208.2 3095.1 L1209.1 3095.6 L1210 3095.1 L1210.9 3095.6 L1211.9 3095.4 L1212.9 3095 L1213.8 3094.9 L1214.8 3095 L1215.8 3094.8 L1216.8 3094.7 L1217.8 3094.9 L1218.7 3095.1 L1219.7 3094.7 L1220.7 3094 L1221.7 3094 L1222.7 3094.1 L1223.6 3094.3 L1224.6 3093.6 L1225.6 3093.5 L1226.5 3093.7 L1227.5 3093.6 L1228.4 3093.3 L1229.4 3093.9 L1230.3 3094.3 L1231.3 3093.8 L1232.2 3094 L1233.2 3094 L1234.2 3094 L1235.1 3094.1 L1236 3093.5 L1237 3093.7 L1238 3093 L1238.9 3093.9 L1239.8 3093.2 L1240.8 3093.3 L1241.8 3093.7 L1242.7 3092.9 L1243.7 3092.7 L1244.7 3093.4 L1245.6 3093 L1246.6 3092.3 L1247.6 3092 L1248.6 3092.3 L1249.6 3091.7 L1250.5 3092.5 L1251.5 3091.6 L1252.5 3091.6 L1253.5 3091.6 L1254.5 3091.7 L1255.4 3091.5 L1256.4 3091.7 L1257.4 3091.7 L1258.3 3091.5 L1259.2 3091.4 L1260.2 3092.9 L1261.1 3093 L1262 3092.7 L1263 3093.5 L1263.9 3094.2 L1264.8 3094.6 L1265.8 3093.4 L1266.7 3093.1 L1267.7 3093.3 L1268.7 3092.8 L1269.7 3092.9 L1270.6 3092.3 L1271.6 3091.3 L1272.6 3091 L1273.5 3091 L1274.5 3091.3 L1275.5 3090.4 L1276.5 3090.7 L1277.4 3090.3 L1278.4 3091 L1279.4 3090.3 L1280.4 3091.4 L1281.4 3090.9 L1282.3 3091 L1283.3 3090.5 L1284.3 3090.7 L1285.3 3091 L1286.3 3091.5 L1287.2 3091.1 L1288.2 3090.9 L1289.2 3091.7 L1290.2 3091.4 L1291.2 3091.3 L1292.1 3090.9 L1293.1 3091.1 L1294.1 3091.8 L1295.1 3090.9 L1296.1 3091.5 L1297 3091.6 L1298 3091.3 L1299 3091.8 L1300 3092 L1301 3092 L1301.9 3091.9 L1302.9 3091.2 L1303.9 3091.1 L1304.9 3091.5 L1305.9 3091.4 L1306.8 3091.3 L1307.8 3092.1 L1308.8 3091.4 L1309.8 3092.1 L1310.8 3092.3 L1311.7 3091.3 L1312.7 3092.3 L1313.7 3091.7 L1314.7 3091.5 L1315.7 3091.4 L1316.6 3091.3 L1317.6 3091.9 L1318.6 3091.7 L1319.6 3092.3 L1320.6 3092.3 L1321.5 3091.4 L1322.5 3091.9 L1323.5 3091.9 L1324.4 3091.6 L1325.4 3091.8 L1326.3 3091.8 L1327.3 3092.3 L1328.2 3092 L1329.1 3091.7 L1330.1 3091.9 L1331 3092.2 L1331.9 3092.4 L1332.9 3092 L1333.8 3092.6 L1334.8 3092.1 L1335.7 3092.7 L1336.6 3092.7 L1337.6 3092.3 L1338.5 3093.1 L1339.5 3092.8 L1340.4 3093.1 L1341.3 3093.4 L1342.3 3093.6 L1343.2 3093.6 L1344.1 3093.3 L1345.1 3094.3 L1346 3094.6 L1347 3094.3 L1347.9 3094.6 L1348.8 3094.4 L1349.8 3095.3 L1350.7 3095.2 L1351.7 3094.9 L1352.6 3095.8 L1353.6 3096.2 L1354.5 3095.6 L1355.5 3096.5 L1356.4 3096.1 L1357.4 3095.8 L1358.3 3096.6 L1359.3 3096.2 L1360.2 3096.7 L1361.2 3096.5 L1362.1 3095.8 L1363.1 3096.2 L1364.1 3096.4 L1365.1 3095.8 L1366 3095.6 L1367 3095.8 L1368 3095 L1369 3094.8 L1369.9 3094.7 L1370.9 3094.8 L1371.9 3093.9 L1372.9 3093.6 L1373.8 3094.3 L1374.8 3094.1 L1375.8 3093.8 L1376.8 3094.6 L1377.7 3094.9 L1378.7 3094.7 L1379.7 3095.6 L1380.7 3095.8 L1381.7 3096.1 L1382.6 3096 L1383.6 3096.1 L1384.6 3097.4 L1385.6 3098 L1386.6 3098 L1387.5 3098.6 L1388.5 3099.1 L1389.5 3099.1" stroke="#e13434" stroke-width="3" fill="none" stroke-linejoin="round" stroke-linecap="round"/>
<g fill="none" stroke-linecap="round"><line x1="46" y1="1170" x2="72" y2="1170" stroke="#d6d6d6" stroke-width="1.6"/><line x1="906" y1="1170.3" x2="916" y2="1170.3" stroke="#e6e6e6" stroke-width="1.4"/><line x1="1.5" y1="566" x2="4.5" y2="575" stroke="#eeeeee" stroke-width="1.2"/><path d="M4.2 601.5 L4.6 625 L6 624 L5.5 612 Z" fill="#cfcfcf" stroke="#d4d4d4" stroke-width="1.2"/><line x1="4" y1="797" x2="4" y2="809" stroke="#dadada" stroke-width="1.8"/><path d="M7.5 1485 L8.8 1485 L11 1512" stroke="#dcdcdc" stroke-width="1.2"/></g>
<text font-family="Liberation Serif" font-weight="bold" fill="#000" font-size="41" x="0" y="0" text-anchor="end" transform="translate(117.6 783) scale(1.0 1.05)">15</text>
<text font-family="Liberation Serif" font-weight="bold" fill="#000" font-size="41" x="0" y="0" text-anchor="end" transform="translate(117.6 682.6) scale(1.0 1.05)">20</text>
<text font-family="Liberation Serif" font-weight="bold" fill="#000" font-size="41" x="0" y="0" text-anchor="end" transform="translate(117.6 582.2) scale(1.0 1.05)">25</text>
<text font-family="Liberation Serif" font-weight="bold" fill="#000" font-size="41" x="0" y="0" text-anchor="end" transform="translate(117.6 481.8) scale(1.0 1.05)">30</text>
<text font-family="Liberation Serif" font-weight="bold" fill="#000" font-size="41" x="0" y="0" text-anchor="end" transform="translate(117.6 381.4) scale(1.0 1.05)">35</text>
<text font-family="Liberation Serif" font-weight="bold" fill="#000" font-size="41" x="0" y="0" text-anchor="end" transform="translate(117.6 281) scale(1.0 1.05)">40</text>
<text font-family="Liberation Serif" font-weight="bold" fill="#000" font-size="41" x="0" y="0" text-anchor="end" transform="translate(117.6 180.6) scale(1.0 1.05)">45</text>
<text font-family="Liberation Serif" font-weight="bold" fill="#000" font-size="41" x="0" y="0" text-anchor="end" transform="translate(117.6 80.2) scale(1.0 1.05)">50</text>
<text font-family="Liberation Serif" font-weight="bold" fill="#000" font-size="41" x="0" y="0" text-anchor="middle" transform="translate(365.7 846.8) scale(1.0 1.05)">2500</text>
<text font-family="Liberation Serif" font-weight="bold" fill="#000" font-size="41" x="0" y="0" text-anchor="middle" transform="translate(585.4 846.8) scale(1.0 1.05)">5000</text>
<text font-family="Liberation Serif" font-weight="bold" fill="#000" font-size="41" x="0" y="0" text-anchor="middle" transform="translate(805.1 846.8) scale(1.0 1.05)">7500</text>
<text font-family="Liberation Serif" font-weight="bold" fill="#000" font-size="41" x="0" y="0" text-anchor="middle" transform="translate(1024.8 846.8) scale(1.0 1.05)">10000</text>
<text font-family="Liberation Serif" font-weight="bold" fill="#000" font-size="41" x="0" y="0" text-anchor="middle" transform="translate(1244.5 846.8) scale(1.0 1.05)">12500</text>
<text font-family="Liberation Serif" font-weight="bold" fill="#000" font-size="41" x="0" y="0" textLength="283" lengthAdjust="spacingAndGlyphs" transform="translate(606 895.9) scale(1.0 1.04)">Sample number</text>
<text font-family="Liberation Serif" font-weight="bold" fill="#000" font-size="40.5" transform="translate(50.4 524.3) rotate(-90)" textLength="289.5" lengthAdjust="spacingAndGlyphs">Temperature, °C</text>
<text font-family="Liberation Serif" font-weight="bold" fill="#000" font-size="41" x="0" y="0" text-anchor="end" transform="translate(131.3 1239.6) scale(1.0 1.05)">0</text>
<text font-family="Liberation Serif" font-weight="bold" fill="#000" font-size="41" x="0" y="0" text-anchor="end" transform="translate(129.6 1381.8) scale(1.0 1.05)">-1</text>
<text font-family="Liberation Serif" font-weight="bold" fill="#000" font-size="41" x="0" y="0" text-anchor="end" transform="translate(129.6 1524) scale(1.0 1.05)">-2</text>
<text font-family="Liberation Serif" font-weight="bold" fill="#000" font-size="41" x="0" y="0" text-anchor="end" transform="translate(129.6 1666.2) scale(1.0 1.05)">-3</text>
<text font-family="Liberation Serif" font-weight="bold" fill="#000" font-size="41" x="0" y="0" text-anchor="end" transform="translate(129.6 1808.4) scale(1.0 1.05)">-4</text>
<text font-family="Liberation Serif" font-weight="bold" fill="#000" font-size="41" x="0" y="0" text-anchor="end" transform="translate(129.6 1950.6) scale(1.0 1.05)">-5</text>
<text font-family="Liberation Serif" font-weight="bold" fill="#000" font-size="41" x="0" y="0" text-anchor="middle" transform="translate(375.6 2024) scale(1.0 1.05)">2500</text>
<text font-family="Liberation Serif" font-weight="bold" fill="#000" font-size="41" x="0" y="0" text-anchor="middle" transform="translate(593.7 2024) scale(1.0 1.05)">5000</text>
<text font-family="Liberation Serif" font-weight="bold" fill="#000" font-size="41" x="0" y="0" text-anchor="middle" transform="translate(811.8 2024) scale(1.0 1.05)">7500</text>
<text font-family="Liberation Serif" font-weight="bold" fill="#000" font-size="41" x="0" y="0" text-anchor="middle" transform="translate(1029.9 2024) scale(1.0 1.05)">10000</text>
<text font-family="Liberation Serif" font-weight="bold" fill="#000" font-size="41" x="0" y="0" text-anchor="middle" transform="translate(1248 2024) scale(1.0 1.05)">12500</text>
<text font-family="Liberation Serif" font-weight="bold" fill="#000" font-size="41" x="0" y="0" textLength="282" lengthAdjust="spacingAndGlyphs" transform="translate(616 2070) scale(1.0 1.04)">Sample number</text>
<text font-family="Liberation Serif" font-weight="bold" fill="#000" font-size="40.5" transform="translate(57.2 1770.8) rotate(-90)" textLength="391.5" lengthAdjust="spacingAndGlyphs">Measurement error, %</text>
<text font-family="Liberation Serif" font-weight="bold" fill="#000" font-size="41" x="0" y="0" text-anchor="end" transform="translate(141.3 3112.1) scale(1.08 1.05)">3.4</text>
<text font-family="Liberation Serif" font-weight="bold" fill="#000" font-size="41" x="0" y="0" text-anchor="end" transform="translate(141.3 3005.3) scale(1.08 1.05)">3.5</text>
<text font-family="Liberation Serif" font-weight="bold" fill="#000" font-size="41" x="0" y="0" text-anchor="end" transform="translate(141.3 2898.5) scale(1.08 1.05)">3.6</text>
<text font-family="Liberation Serif" font-weight="bold" fill="#000" font-size="41" x="0" y="0" text-anchor="end" transform="translate(141.3 2791.7) scale(1.08 1.05)">3.7</text>
<text font-family="Liberation Serif" font-weight="bold" fill="#000" font-size="41" x="0" y="0" text-anchor="end" transform="translate(141.3 2684.9) scale(1.08 1.05)">3.8</text>
<text font-family="Liberation Serif" font-weight="bold" fill="#000" font-size="41" x="0" y="0" text-anchor="end" transform="translate(141.3 2578.1) scale(1.08 1.05)">3.9</text>
<text font-family="Liberation Serif" font-weight="bold" fill="#000" font-size="41" x="0" y="0" text-anchor="end" transform="translate(141.3 2471.3) scale(1.08 1.05)">4.0</text>
<text font-family="Liberation Serif" font-weight="bold" fill="#000" font-size="41" x="0" y="0" text-anchor="middle" transform="translate(392.4 3169.8) scale(1.08 1.05)">2500</text>
<text font-family="Liberation Serif" font-weight="bold" fill="#000" font-size="41" x="0" y="0" text-anchor="middle" transform="translate(608.6 3169.8) scale(1.08 1.05)">5000</text>
<text font-family="Liberation Serif" font-weight="bold" fill="#000" font-size="41" x="0" y="0" text-anchor="middle" transform="translate(824.8 3169.8) scale(1.08 1.05)">7500</text>
<text font-family="Liberation Serif" font-weight="bold" fill="#000" font-size="41" x="0" y="0" text-anchor="middle" transform="translate(1041 3169.8) scale(1.08 1.05)">10000</text>
<text font-family="Liberation Serif" font-weight="bold" fill="#000" font-size="41" x="0" y="0" text-anchor="middle" transform="translate(1257.2 3169.8) scale(1.08 1.05)">12500</text>
<text font-family="Liberation Serif" font-weight="bold" fill="#000" font-size="41" x="0" y="0" textLength="279" lengthAdjust="spacingAndGlyphs" transform="translate(633 3218.5) scale(1.0 1.04)">Sample number</text>
<text font-family="Liberation Serif" font-weight="bold" fill="#000" font-size="41" transform="translate(50.3 3056.3) scale(1.07 1) rotate(-90)" textLength="627.5" lengthAdjust="spacingAndGlyphs">Amplitude of 2nd harmonic, rel. un.</text>
<text font-family="Liberation Serif" fill="#000" font-size="60" x="703.7" y="1046.6" text-anchor="middle">(<tspan font-weight="bold">a</tspan>)</text>
<text font-family="Liberation Serif" fill="#000" font-size="60" x="703.2" y="2223.2" text-anchor="middle">(<tspan font-weight="bold">b</tspan>)</text>
<text font-family="Liberation Serif" fill="#000" font-size="60" x="703.4" y="3379" text-anchor="middle">(<tspan font-weight="bold">c</tspan>)</text>
</svg>
</body></html>
